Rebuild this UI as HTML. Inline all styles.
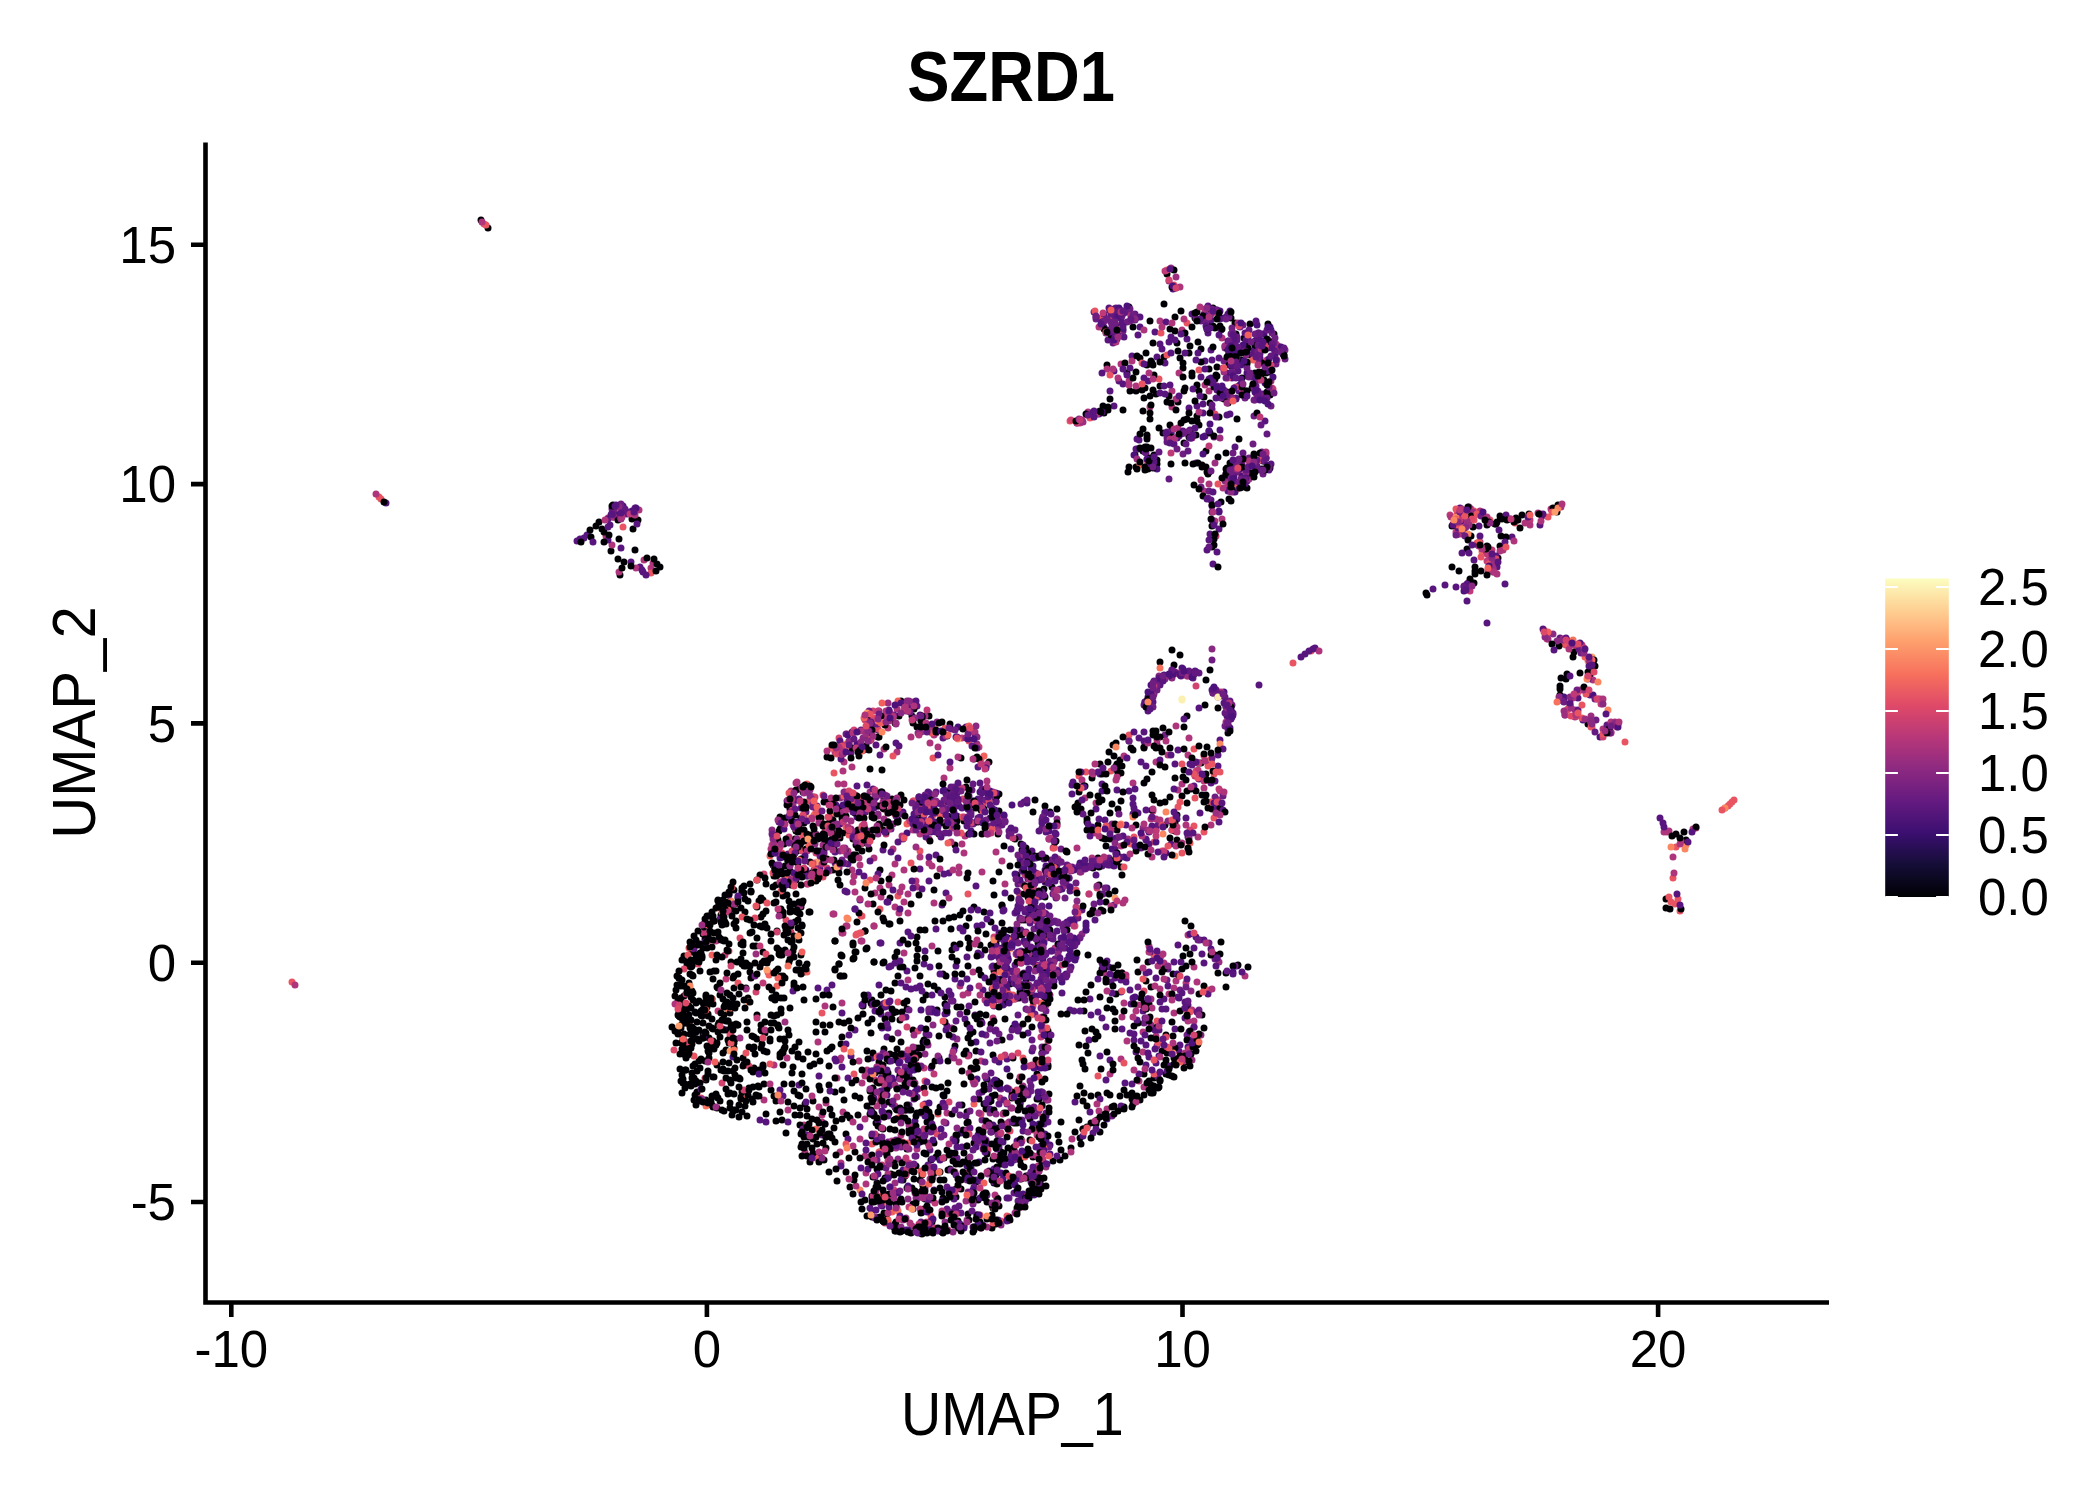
<!DOCTYPE html><html><head><meta charset="utf-8"><style>html,body{margin:0;padding:0;background:#fff;width:2100px;height:1500px;overflow:hidden}svg{display:block}text{font-family:"Liberation Sans",sans-serif}</style></head><body>
<svg width="2100" height="1500" viewBox="0 0 2100 1500">
<defs><linearGradient id="mg" x1="0" y1="1" x2="0" y2="0">
<stop offset="0.00" stop-color="#000004"/>
<stop offset="0.10" stop-color="#140E36"/>
<stop offset="0.20" stop-color="#3B0F70"/>
<stop offset="0.30" stop-color="#641A80"/>
<stop offset="0.40" stop-color="#8C2981"/>
<stop offset="0.50" stop-color="#B73779"/>
<stop offset="0.60" stop-color="#DE4968"/>
<stop offset="0.70" stop-color="#F7705C"/>
<stop offset="0.80" stop-color="#FE9F6D"/>
<stop offset="0.90" stop-color="#FECF92"/>
<stop offset="1.00" stop-color="#FCFDBF"/>
</linearGradient></defs>
<g fill="none" stroke-width="7" stroke-linecap="round"><path d="M1225 348h0M998 828h0M993 792h0M1242 389h0M1001 1089h0M957 1039h0M1020 1154h0M776 840h0M993 949h0M1046 987h0M968 1192h0M1212 649h0M879 711h0M930 828h0M1278 346h0M1087 868h0M933 1025h0M1039 1186h0M1565 715h0M817 876h0M1583 648h0M824 854h0M1011 830h0M1497 561h0M1151 1025h0M1031 1091h0M893 824h0M1172 678h0" stroke="#8A2981"/><path d="M1147 437h0M1561 507h0M912 1226h0M1187 676h0M897 709h0M1178 790h0M1046 812h0M1222 519h0M1038 1166h0M1036 921h0M1222 338h0M883 802h0M911 737h0M1096 803h0M1220 806h0M1057 825h0M1204 491h0M1164 963h0M1003 1125h0M938 747h0M874 926h0M1276 344h0M1667 832h0M1201 480h0M1245 976h0M960 986h0M838 784h0M1490 557h0M910 1223h0M1139 1081h0M1611 732h0M806 819h0M908 913h0M934 735h0M913 830h0M1107 1109h0M856 839h0M973 972h0M1104 973h0M931 1200h0M1233 492h0M1615 722h0M805 1152h0M764 1100h0M1144 1087h0M1122 973h0M982 872h0M902 836h0M1072 1139h0M1172 407h0M1055 948h0M1058 859h0M1603 729h0M970 812h0M1673 857h0M1575 717h0M804 1125h0M866 1173h0" stroke="#AE347B"/><path d="M1073 954h0M1487 549h0M1021 1195h0M773 834h0M698 964h0M898 1002h0M1045 1144h0M792 815h0M983 804h0M1196 771h0M1018 1053h0M1580 690h0M730 1035h0M823 795h0M1453 524h0M1033 1006h0" stroke="#DE4968"/><path d="M1221 330h0M1491 557h0M926 1110h0M1158 825h0M917 706h0M1044 880h0M1116 308h0M931 798h0M926 827h0M1015 830h0M1115 332h0M1038 1177h0M974 823h0M991 1084h0M917 821h0M952 819h0M1070 920h0M1086 930h0M896 1140h0M1070 887h0M1201 321h0M946 1123h0M1059 950h0M1020 859h0M1056 898h0M1039 893h0M957 1158h0M1034 937h0M983 1225h0M1156 953h0M1036 908h0M787 801h0M921 823h0M966 727h0M1027 942h0M994 1169h0M851 753h0M930 1150h0M1200 940h0M953 1037h0M1049 978h0M1082 910h0M803 790h0M954 803h0M1099 860h0M1230 701h0M1192 677h0M1076 957h0M1256 323h0M1021 930h0M1018 1201h0M1014 1193h0M1106 333h0M916 809h0M793 798h0M1029 897h0M1464 512h0M1044 1066h0M1247 376h0M1607 725h0" stroke="#63197F"/><path d="M847 918h0M1491 560h0M1166 812h0M1119 326h0M1686 845h0M1175 856h0M860 1190h0M846 744h0" stroke="#FB8761"/><path d="M1018 906h0M1600 737h0M980 792h0M1166 853h0M623 506h0M1003 1142h0M1235 482h0M1039 983h0M903 1170h0M1224 692h0M1044 968h0M1227 716h0M1114 309h0M1121 318h0M1262 397h0M1134 813h0M921 1192h0M1071 923h0M1228 356h0M899 1078h0M903 812h0M886 1152h0M959 806h0M1103 861h0M1261 396h0M1099 414h0M1228 489h0M934 810h0M1066 974h0M921 1010h0M1031 868h0M1022 1198h0M878 730h0M1117 311h0M1188 837h0M1046 1100h0M1237 966h0M1046 1116h0M881 1139h0M1146 840h0M928 1168h0M989 997h0M907 833h0M1041 930h0M956 737h0M1171 434h0M1181 434h0M1222 386h0M1083 1129h0M920 715h0M1044 976h0M796 861h0M1030 938h0M1220 311h0M884 1113h0M961 1133h0M1145 702h0M1008 1159h0M943 791h0M946 1030h0M1100 319h0M1023 1194h0M1045 870h0M1062 889h0M1045 882h0M733 1057h0M1228 488h0M977 1079h0M1149 832h0M1044 880h0M997 823h0M1275 352h0M818 837h0M1062 982h0M1229 704h0M820 869h0" stroke="#4C117A"/><path d="M943 1095h0M1020 1104h0M1117 764h0M726 924h0M904 1003h0M785 866h0M1187 791h0M1497 522h0M733 978h0M992 1228h0M741 1097h0M1138 449h0M1180 655h0M1059 1142h0M946 976h0M992 1215h0M977 757h0M919 1136h0M819 1155h0M1107 365h0M774 1023h0M907 1188h0M697 1071h0M1153 365h0M1173 974h0M807 1156h0M1153 390h0M966 926h0M1238 965h0M744 1064h0M850 1187h0M955 1046h0M792 956h0M795 815h0M861 831h0M1197 312h0M736 921h0M968 799h0M1183 368h0M1045 1079h0M1048 1031h0M948 1170h0M853 839h0M993 1159h0M703 1035h0M763 914h0M1247 488h0M719 1023h0M709 1102h0M875 1073h0M843 822h0M739 1078h0M735 1039h0M757 1015h0M776 1121h0M1066 869h0M1098 825h0M1087 1106h0M979 1099h0M871 1033h0M1666 899h0M1100 973h0M1213 308h0M836 828h0M1144 1003h0M810 1162h0M687 1009h0M972 730h0M699 1061h0M1097 1120h0M881 1167h0M1061 1122h0M1093 868h0M861 1202h0M1143 1005h0M774 1096h0M794 986h0M1045 998h0M800 848h0M886 823h0M709 1058h0M930 1123h0M1154 1078h0M961 1007h0M1684 832h0M997 1198h0M803 1059h0M1042 1053h0M833 1007h0M998 834h0M1020 1160h0M865 931h0M1026 981h0M677 985h0M764 1084h0M1022 850h0M801 818h0M1087 1127h0M824 802h0M929 1114h0M1146 353h0M925 1199h0M731 962h0M867 1106h0M726 1030h0M1240 390h0M746 963h0M811 835h0M687 963h0M872 1075h0M1092 828h0M1026 848h0M938 990h0M883 1146h0M1194 485h0M868 1023h0M1004 846h0M756 946h0M844 976h0M804 1000h0M1218 457h0M945 997h0M799 913h0M991 1024h0M853 959h0M745 912h0M1160 662h0M865 1200h0M840 838h0M907 1009h0M872 1000h0M858 830h0M1030 856h0M1026 1197h0M679 1016h0M730 995h0M692 991h0M915 1135h0M1243 361h0M1192 421h0M881 1218h0M690 1034h0M744 893h0M906 1174h0M900 1232h0M699 1030h0M1167 274h0M993 945h0M682 1049h0M735 1068h0M796 831h0M952 957h0M803 1147h0M1048 881h0M1116 766h0M1110 839h0M1046 1137h0M708 936h0M802 926h0M1030 1119h0M1228 403h0M941 823h0M679 1007h0M944 1096h0M981 1021h0M1560 689h0M898 976h0M1136 467h0M1091 985h0M769 987h0M699 1001h0M1590 675h0M1236 334h0M1570 705h0M889 924h0M797 851h0M873 904h0M922 1234h0M1017 1208h0M1247 364h0M917 961h0M1096 1124h0M1042 1163h0M883 830h0M818 839h0M706 941h0M1199 994h0M1186 948h0M913 1030h0M1156 394h0M708 1014h0M803 792h0M1038 943h0M832 1047h0M876 1123h0M1151 1093h0M1046 881h0M917 937h0M813 797h0M842 1090h0M1197 1045h0M756 1095h0M1065 1156h0M783 1053h0M770 1039h0M772 998h0M1190 437h0M1177 840h0M773 865h0M827 845h0M1145 470h0M933 1233h0M914 709h0M743 1058h0M958 1221h0M828 802h0M829 1066h0M880 870h0M780 1054h0M841 1044h0M999 1206h0M1150 1017h0M1000 819h0M1124 1107h0M948 1061h0M839 808h0M770 1041h0M689 983h0M935 1061h0M883 1221h0M801 955h0M943 1198h0M834 1128h0M857 922h0M1052 887h0M942 1229h0M750 972h0M734 890h0M1116 743h0M1427 595h0M778 840h0M984 1104h0M932 1222h0M942 1232h0M1263 461h0M624 562h0M1083 1101h0M749 1047h0M890 802h0M795 847h0M1241 484h0M1098 1095h0M777 838h0M1146 981h0M1206 451h0M789 962h0M865 812h0M804 830h0M788 861h0M1471 536h0M1002 906h0M906 1144h0M950 1169h0M870 1157h0M937 1010h0M1187 716h0M964 1153h0M934 1143h0M707 934h0M1607 732h0M721 901h0M1173 1036h0M1274 334h0M1522 515h0M1206 795h0M1252 474h0M783 857h0M725 1005h0M1254 454h0M996 801h0M712 1105h0M733 1111h0M1189 353h0M724 921h0M753 946h0M777 931h0M801 871h0M1165 802h0M1185 388h0M802 787h0M803 901h0M879 824h0M968 821h0M1151 361h0M994 971h0M1064 874h0M839 1022h0M970 1034h0M841 976h0M1032 1190h0M1141 998h0M1036 1181h0M731 1083h0M996 1224h0M1110 1000h0M1500 516h0M1132 1099h0M856 855h0M987 1079h0M1018 1110h0M743 945h0M737 1004h0M701 953h0M753 1072h0M757 880h0M780 1039h0M916 1229h0M1202 795h0M900 967h0M856 837h0M984 912h0M1206 774h0M890 1161h0M955 845h0M706 1080h0M816 839h0M993 1208h0M1204 986h0M1061 1150h0M1136 391h0M1166 1074h0M1078 1000h0M1021 1179h0M613 505h0M884 1213h0M789 862h0M1026 1176h0M806 1128h0M1114 1106h0M974 1230h0M1013 1028h0M1250 324h0M1029 913h0M980 945h0M1088 1053h0M1211 761h0M781 1013h0M1204 802h0M945 1004h0M889 1113h0M729 1043h0M1197 416h0M703 934h0M702 958h0M1212 809h0M1075 807h0M1137 960h0M731 907h0M880 1152h0M688 1049h0M897 809h0M1033 1157h0M633 529h0M916 1139h0M968 1214h0M1080 1138h0" stroke="#000004"/><path d="M977 926h0M868 996h0M1134 1040h0M1104 327h0M1188 1047h0M937 1013h0M978 799h0M889 710h0M1114 866h0M861 730h0M978 953h0M1032 851h0M1236 398h0M946 893h0M923 808h0M1019 906h0M1036 873h0M779 822h0M1506 515h0M1020 954h0M879 1154h0M1119 381h0M1133 798h0M1025 984h0M1034 955h0M1039 831h0M967 957h0M1232 378h0M1151 702h0M1168 986h0M880 755h0M1115 978h0M1231 480h0M1117 339h0M1263 334h0M780 1090h0M992 981h0M1189 408h0M1074 1011h0M799 1085h0M878 874h0M1465 521h0M1114 406h0M1102 866h0M1096 809h0M1238 371h0M921 802h0M1188 1005h0M1178 750h0M848 1078h0M916 1156h0M931 1227h0M920 869h0M1149 1057h0M1219 511h0M1108 340h0M1012 971h0M1121 992h0M1141 848h0M1218 755h0M1039 925h0M1209 431h0M1024 802h0M980 783h0M1467 601h0M1185 353h0M872 1198h0M1093 1133h0M1271 464h0M1055 833h0M1211 500h0M1109 967h0M1245 484h0M870 1208h0M977 821h0M1497 567h0M990 818h0M976 886h0M1043 962h0M887 1037h0M1512 537h0M910 1056h0M1233 713h0M1174 826h0M1017 1141h0M1098 979h0M860 900h0M1089 1040h0M1033 1167h0M983 990h0M1072 870h0M881 1014h0M878 1121h0M932 1009h0M1045 820h0M1479 526h0M1067 922h0M1211 783h0M1185 1018h0M1124 337h0M900 943h0M1050 826h0M1025 912h0M1062 993h0M846 1044h0" stroke="#58157E"/><path d="M1478 544h0M1254 470h0M1174 285h0M921 1171h0M1041 1151h0M872 1144h0M1162 851h0M837 828h0M484 224h0M1154 842h0M1154 955h0M379 497h0M1079 776h0M1209 990h0M898 896h0M938 1114h0M1041 952h0M860 933h0M943 804h0M814 827h0M1001 1221h0M694 1056h0M1182 853h0M803 836h0M920 851h0M1214 774h0M1053 848h0M701 1098h0M1477 543h0" stroke="#E95462"/><path d="M947 1214h0M888 1197h0M1153 811h0M888 728h0M1025 875h0M994 1208h0M1032 996h0M935 1228h0M757 1018h0M812 819h0M962 738h0M1048 1041h0M1582 645h0M1227 704h0M1267 360h0M1195 776h0M890 713h0M947 791h0M613 517h0M1080 423h0M1220 791h0M1450 515h0M1048 931h0M969 732h0M880 1101h0" stroke="#BF3A77"/><path d="M971 812h0M870 1076h0M1055 921h0M1041 937h0M973 1204h0M885 1152h0M1014 1160h0M1044 1035h0M823 852h0M1204 314h0M1246 391h0M903 839h0M1262 452h0M954 1155h0M1487 522h0M1210 325h0M1007 1221h0M1183 454h0M951 1170h0M915 1055h0M1035 1014h0M1209 491h0M995 952h0M970 1165h0M842 814h0M1066 964h0M1246 459h0M1061 862h0M1042 989h0M1243 325h0M632 515h0M1083 786h0M1158 1077h0M1020 998h0M1043 948h0M1042 1054h0M982 1120h0M1122 316h0M620 512h0M1061 849h0M1040 922h0M979 1093h0M1165 735h0M926 830h0M1249 458h0M990 826h0M1009 1198h0M1057 865h0M1019 837h0M1036 939h0M869 716h0" stroke="#6E1D81"/><path d="M1482 552h0M831 815h0M697 1093h0M857 807h0" stroke="#F7725C"/><path d="M1106 828h0M1592 657h0M1010 949h0M882 723h0" stroke="#FD9D6B"/><path d="M1131 844h0M1260 460h0M1025 1157h0M881 1196h0M1460 516h0M1167 270h0M895 814h0M870 732h0" stroke="#F1605D"/><path d="M1057 897h0M1529 519h0M825 845h0M966 1201h0M884 819h0M914 1056h0M1042 1017h0M872 1005h0M1280 351h0M1050 995h0M1064 886h0M1032 955h0M1009 1130h0M876 1217h0M1468 583h0M967 1220h0M1128 839h0M1008 941h0M1188 676h0M1023 1086h0M838 830h0M1046 929h0M899 1056h0M1232 716h0" stroke="#9C2E7F"/><path d="M896 803h0M885 1223h0M952 828h0M926 821h0M1228 378h0M1273 389h0M845 792h0M836 753h0M764 874h0M768 972h0" stroke="#D2436F"/><path d="M825 831h0M835 747h0M1567 640h0M1113 331h0M890 1187h0M993 1018h0M909 822h0M704 933h0M1198 770h0M1161 956h0M608 518h0M725 955h0M994 1001h0M955 1172h0M924 1068h0M1189 1049h0M909 1163h0M1049 973h0M869 740h0M835 752h0M1117 857h0M998 995h0M891 808h0M917 1142h0M1272 388h0M935 1203h0M905 1057h0M1216 536h0" stroke="#BF3A77"/><path d="M1190 843h0M744 1099h0M849 742h0M1237 489h0M807 784h0M917 825h0M847 734h0M940 816h0M777 986h0M1043 879h0M1031 1015h0" stroke="#F1605D"/><path d="M1153 731h0M719 1023h0M1162 1051h0M867 717h0M805 812h0M819 1155h0M1184 727h0M1176 1062h0M816 851h0M1247 350h0M763 952h0M709 1026h0M989 762h0M705 919h0M688 1055h0M900 1144h0M912 1188h0M815 864h0M1008 960h0M843 833h0M899 716h0M718 1025h0M1213 311h0M1100 764h0M1170 329h0M994 1084h0M903 940h0M976 1182h0M820 1061h0M734 1048h0M863 843h0M1255 373h0M735 1075h0M844 863h0M716 908h0M1257 342h0M877 806h0M703 1038h0M1250 355h0M804 972h0M679 1012h0M882 770h0M742 892h0M1010 984h0M717 987h0M946 1230h0M1153 1093h0M1109 863h0M887 1156h0M1202 465h0M1078 803h0M1269 346h0M1013 1058h0M1588 724h0M1187 803h0M881 1128h0M938 1228h0M855 1152h0M1189 1010h0M912 716h0M738 898h0M1020 1094h0M994 895h0M783 1065h0M885 725h0M1121 773h0M879 794h0M790 959h0M1201 763h0M999 811h0M1676 834h0M881 881h0M1244 338h0M971 1068h0M1191 926h0M790 856h0M1131 748h0M902 1012h0M856 845h0M751 978h0M883 918h0M901 701h0M809 912h0M692 1044h0M1109 752h0M1105 839h0M956 1189h0M1186 966h0M784 1084h0M1215 955h0M1498 558h0M947 1091h0M1004 950h0M913 1204h0M1185 1062h0M1037 878h0M750 933h0M1160 1080h0M938 1112h0M947 1150h0M996 1175h0M1040 932h0M1010 866h0M821 818h0M802 1074h0M1079 867h0M837 831h0M688 1044h0M1114 756h0M1018 1206h0M984 1193h0M721 1070h0M1018 998h0M1228 733h0M835 969h0M801 1134h0M1501 536h0M1144 783h0M1136 851h0M908 944h0M681 986h0M883 1220h0M1024 1167h0M1246 341h0M801 907h0M788 1102h0M782 955h0M1140 1100h0M999 1223h0M895 1107h0M968 966h0M829 1085h0M792 1051h0M1108 762h0M707 999h0M893 800h0M974 759h0M877 1183h0M967 1012h0M1248 967h0M693 1066h0M907 1149h0M1133 1104h0M1061 1014h0M768 960h0M1044 933h0M776 885h0M760 875h0M1190 346h0M994 1021h0M1166 1035h0M974 907h0M1183 363h0M706 995h0M679 1004h0M1177 815h0M969 948h0M1100 894h0M973 1197h0M728 1094h0M1182 969h0M967 1112h0M694 1078h0M1144 1074h0M1000 957h0M1149 1004h0M774 876h0M687 966h0M838 880h0M696 961h0M1152 810h0M1134 1026h0M776 1101h0M714 921h0M1157 1027h0M916 1166h0M1204 397h0M1474 516h0M734 976h0M1084 1011h0M963 1130h0M1202 467h0M1257 394h0M713 1004h0M718 1032h0M1208 326h0M696 1003h0M978 1218h0M792 1073h0M1099 802h0M1273 342h0M697 1039h0M816 881h0M999 794h0M833 870h0M927 1233h0M898 820h0M1050 812h0M929 1112h0M865 931h0M895 1225h0M856 835h0M986 1015h0M1158 1088h0M1147 365h0M869 849h0M1209 382h0M1184 1068h0M1049 1040h0M827 844h0M744 886h0M1195 318h0M754 1037h0M967 1123h0M1500 546h0M704 927h0M880 1217h0M732 1115h0M694 936h0M1205 705h0M896 1222h0M985 950h0M1143 411h0M901 1199h0M739 994h0M1227 392h0M1116 313h0M1184 420h0M1017 875h0M986 1109h0M854 958h0M1002 905h0M743 953h0M1037 1099h0M681 1028h0M1215 379h0M936 1157h0M728 1040h0M840 885h0M1021 1165h0M1086 1046h0M889 1194h0M734 988h0M1006 954h0M730 910h0M748 998h0M1164 357h0M916 1058h0M1103 406h0M950 792h0M706 1100h0M832 1138h0M917 1113h0M997 979h0M918 949h0M1127 373h0M1270 372h0M682 1018h0M804 823h0M1143 429h0M1231 318h0M801 1147h0M685 1088h0M1203 496h0M858 1115h0M1104 969h0M1038 1064h0M780 1057h0M679 1006h0M703 1003h0M689 1022h0M901 1042h0M1199 425h0M707 916h0M1008 938h0M890 898h0M896 1222h0M765 1022h0M1241 360h0M887 1219h0M919 810h0M686 1048h0M930 1210h0M732 1025h0M1115 1021h0M966 1051h0M1194 674h0M872 1112h0M1001 818h0M856 1080h0M954 917h0M705 943h0M1270 468h0M746 988h0M772 990h0M943 921h0M996 814h0M734 1043h0M757 1096h0M709 1038h0M1220 954h0M1107 1008h0M778 1026h0M921 730h0M880 826h0M1075 1132h0M712 999h0M1266 373h0M1616 724h0M1172 855h0M895 1166h0M1147 1083h0M713 1046h0M1150 419h0M1213 326h0M682 1024h0M871 1003h0M795 839h0M821 1133h0M792 941h0M1567 674h0M638 520h0M974 1143h0M796 894h0M1037 1074h0M900 805h0M849 1021h0M737 1025h0M690 974h0M979 970h0M730 901h0M765 1033h0M1266 458h0M934 986h0M1087 819h0" stroke="#000004"/><path d="M982 1142h0M1071 871h0M843 812h0M756 954h0M863 826h0M930 1179h0M851 829h0M1575 710h0M1016 939h0M870 831h0M1043 975h0M987 1152h0M874 1160h0M919 718h0M977 744h0M1032 1155h0M885 1088h0M1565 715h0M944 1122h0M1176 277h0M793 843h0M933 1177h0M800 906h0M952 1028h0M906 1218h0M994 954h0M871 1156h0M790 810h0M967 1146h0M1255 400h0M1046 1005h0M1020 1179h0M1219 962h0" stroke="#9C2E7F"/><path d="M1147 701h0M1237 358h0M608 519h0M1230 716h0M975 735h0M1259 396h0M1249 330h0M1031 1172h0M1106 320h0M1026 932h0M914 1099h0M907 1054h0M915 818h0M916 808h0M952 1056h0M1046 1113h0M981 799h0M1042 828h0M1111 982h0M1018 884h0M1036 986h0M799 789h0M1066 977h0M1002 825h0M956 1021h0M1228 729h0M1036 858h0M932 1012h0M1039 857h0M989 1144h0M1590 695h0M1114 905h0M929 1035h0M1578 710h0M994 795h0M974 1187h0M947 1209h0M1021 984h0M989 1089h0M1066 870h0M1229 398h0M894 715h0M1055 959h0M1257 460h0M1196 463h0M1136 318h0M1161 678h0M1015 965h0M999 1147h0M1075 956h0M870 801h0M1043 821h0M1018 1031h0M1113 343h0M1103 894h0M1015 913h0M949 833h0M889 1086h0M632 511h0M864 750h0M956 1211h0" stroke="#63197F"/><path d="M1209 484h0M1493 569h0M1471 509h0M843 1112h0M951 842h0M856 1186h0M975 732h0M1205 309h0M1160 820h0M1133 783h0M1480 511h0M787 1058h0M1121 364h0M1007 954h0M1149 946h0M899 913h0M1563 698h0M948 1230h0M1110 1074h0M929 863h0M1588 676h0M1095 764h0M1136 812h0M1027 1196h0M1136 1102h0M844 762h0M865 1119h0M1194 967h0M1121 1059h0M865 1156h0M841 1163h0M829 805h0M1000 1098h0M1156 819h0M969 1073h0M1693 829h0M917 1197h0M1047 938h0M1042 1024h0M968 727h0M848 851h0M895 1106h0M1124 1003h0M1230 396h0M854 876h0M925 1195h0M606 536h0M1022 884h0M965 836h0M1218 800h0M1209 391h0M1042 975h0M1458 534h0M893 716h0M889 885h0M1122 1017h0M900 892h0M893 804h0M1082 780h0M1035 997h0M1085 798h0M1188 849h0M985 1127h0M1256 393h0M1497 574h0M936 733h0M867 1070h0M807 884h0M1037 1135h0M1611 722h0M833 914h0M874 926h0M1184 1061h0M978 1143h0" stroke="#AE347B"/><path d="M958 739h0" stroke="#FD9D6B"/><path d="M1013 995h0M1625 742h0M1089 894h0M849 835h0M834 801h0M1492 568h0M1194 826h0M1119 837h0M1101 318h0M782 853h0M969 741h0M1214 818h0M992 829h0M1157 1021h0M732 887h0M933 758h0M1184 1009h0M1086 772h0M956 789h0M1032 1112h0M1728 806h0M746 1053h0M1582 705h0M773 873h0M620 505h0M1047 1028h0M981 759h0M757 880h0M729 951h0M1033 1108h0M1194 749h0M903 1142h0M908 1143h0M1725 808h0M1515 523h0M1046 1062h0M1134 837h0M933 815h0M1070 421h0" stroke="#E95462"/><path d="M895 811h0M814 815h0M1160 668h0M932 731h0M788 966h0" stroke="#F7725C"/><path d="M1022 884h0M1001 1225h0M785 882h0M1493 572h0M1159 676h0M1058 954h0M1016 1121h0M983 1149h0M869 722h0M901 1227h0M1466 517h0M818 875h0M1459 534h0M774 853h0M906 711h0M852 831h0M814 870h0M840 798h0M971 824h0M992 967h0M1048 987h0M707 925h0M920 1133h0M1057 819h0M1189 838h0M923 1212h0M1046 1099h0M1037 874h0M1029 985h0M1486 551h0" stroke="#8A2981"/><path d="M1245 333h0M914 814h0M1027 945h0M981 955h0M1236 472h0M986 1078h0M986 1145h0M1107 319h0M922 818h0M1217 552h0M1061 938h0M1211 350h0M793 991h0M994 985h0M872 1211h0M1235 447h0M883 850h0M1215 781h0M842 1013h0M874 1098h0M1192 314h0M1078 918h0M1183 669h0M860 1127h0M962 808h0M1098 412h0M993 966h0M1149 844h0M1219 358h0M1208 994h0M1232 717h0M1100 1099h0M766 1122h0M1115 849h0M1213 564h0M1219 335h0M1129 791h0M845 794h0M587 535h0M1102 963h0M1265 421h0M760 1120h0M1229 477h0M880 943h0M1172 830h0M1510 519h0M1229 478h0M1564 698h0M1102 784h0M929 881h0M883 1004h0M1018 952h0M875 1011h0M801 808h0M1148 381h0M863 1004h0M619 513h0M774 866h0M1259 685h0M1065 948h0M925 951h0M1217 809h0M990 913h0M906 1230h0M1663 823h0M1074 945h0M1194 786h0M908 932h0M942 1201h0M957 793h0M1457 516h0M1469 585h0M1174 789h0M1132 1084h0M1228 491h0M1095 920h0M1199 779h0M960 928h0M975 1015h0M916 988h0M872 1058h0M738 896h0M1184 719h0M896 743h0M1220 740h0M1209 379h0M1058 923h0M1139 1074h0M1041 991h0M978 910h0M1263 394h0M1455 521h0M1143 1011h0M1046 832h0M1081 772h0M909 705h0M1138 813h0M1050 1154h0M852 732h0M951 995h0M936 855h0M949 873h0M1042 907h0M386 503h0M1178 945h0M788 854h0M1123 384h0M1121 1106h0M1203 413h0" stroke="#58157E"/><path d="M1150 952h0M1107 330h0M1110 310h0M1227 473h0M611 515h0M940 1160h0M949 798h0M1016 1179h0M1075 960h0M1177 974h0M1034 916h0M1265 348h0M1029 916h0M1148 697h0M1043 912h0M1019 953h0M1256 379h0M882 806h0M1045 930h0M871 734h0M1033 870h0M784 873h0M1217 310h0M1075 956h0M1060 889h0M892 1104h0M889 1176h0M882 1206h0M1041 948h0M1112 849h0M1269 359h0M1020 1103h0M1583 720h0M857 744h0M857 817h0M1593 695h0M1045 1134h0M976 1042h0M1036 910h0M1464 591h0M1265 383h0M1043 820h0M1057 877h0M957 816h0M1232 367h0M1012 805h0M1281 347h0M1264 334h0M1027 803h0M1227 373h0M1247 373h0M1104 314h0M998 1220h0M1260 358h0M1046 1141h0M998 939h0M1228 314h0M1235 492h0M1177 819h0" stroke="#4C117A"/><path d="M1224 361h0M1014 983h0M822 1135h0M1272 333h0M1242 464h0M986 820h0M1063 948h0M972 801h0M1225 346h0M1196 672h0M1269 467h0M1204 318h0M1229 393h0M1232 372h0M1123 331h0M999 1034h0M1223 796h0M896 816h0M1268 340h0M1002 948h0M1199 1010h0M977 1215h0M1254 416h0M935 813h0M1229 317h0M1235 966h0M883 1114h0M1048 965h0M1128 311h0M1082 869h0M995 1131h0M1040 909h0M613 517h0M1187 1035h0M1003 969h0M1110 826h0M986 1140h0M1019 933h0M875 1177h0M1173 674h0M1596 720h0M1018 855h0M1022 871h0M954 787h0M986 800h0M806 812h0M1035 957h0M1248 479h0M1059 890h0M1015 999h0M970 802h0M987 1195h0M1254 350h0M1004 970h0M925 1188h0M960 1014h0M950 822h0M1049 839h0M1276 364h0M1065 941h0" stroke="#6E1D81"/><path d="M1232 360h0M1567 710h0M937 1134h0M1144 991h0M802 851h0M731 1034h0M878 729h0M684 969h0" stroke="#DE4968"/><path d="M756 992h0M1566 645h0M914 801h0M988 1150h0M791 932h0M1071 420h0M708 941h0M1097 888h0M873 711h0M819 821h0M963 799h0M815 797h0M1577 648h0M1075 868h0M1591 723h0" stroke="#D2436F"/><path d="M935 725h0M690 986h0M1588 661h0M1163 834h0" stroke="#FB8761"/><path d="M838 750h0M1196 686h0M1568 709h0M918 1031h0M994 937h0M878 830h0M705 1078h0M833 834h0M1603 737h0M894 1190h0M874 803h0M934 826h0M860 798h0M897 1208h0M839 738h0M932 823h0M1190 830h0M891 719h0" stroke="#D2436F"/><path d="M749 1002h0M1685 849h0M728 1010h0" stroke="#FB8761"/><path d="M896 809h0M1589 660h0M1038 1067h0M1591 671h0M928 1045h0M988 1174h0M1046 996h0M1473 515h0M995 954h0M915 1193h0M878 834h0M1112 824h0M797 839h0M1082 934h0M957 1223h0M1157 1046h0M1194 1027h0M702 1099h0M863 738h0M928 1143h0M1143 828h0M1217 958h0M937 722h0M840 851h0M1246 355h0M1201 1035h0M817 866h0M898 1159h0M1080 937h0" stroke="#8A2981"/><path d="M778 1025h0M1077 806h0M830 1134h0M978 1200h0M751 892h0M798 847h0M866 949h0M989 1102h0M870 1114h0M897 822h0M773 835h0M734 1110h0M749 1088h0M1257 413h0M948 816h0M767 928h0M832 820h0M822 836h0M790 808h0M808 876h0M1181 311h0M1057 862h0M922 1048h0M683 1083h0M1152 772h0M1184 443h0M1594 660h0M924 1137h0M1160 737h0M823 1025h0M947 736h0M1116 994h0M1574 652h0M685 1019h0M961 1189h0M931 1160h0M996 944h0M973 805h0M681 1043h0M804 1148h0M1002 1040h0M924 1141h0M1118 310h0M790 800h0M872 1196h0M1012 1153h0M1470 579h0M755 963h0M968 795h0M987 1202h0M911 1233h0M827 757h0M867 734h0M685 1084h0M773 836h0M721 915h0M911 904h0M1198 763h0M829 823h0M981 810h0M895 1224h0M1035 899h0M929 716h0M993 818h0M1028 950h0M1128 472h0M725 940h0M1057 809h0M739 1105h0M1053 1161h0M1021 1139h0M959 1226h0M895 983h0M1557 512h0M672 1027h0M1091 813h0M905 1083h0M1123 410h0M939 1036h0M1178 1062h0M1160 386h0M1091 1123h0M1044 1178h0M1106 409h0M795 1047h0M735 904h0M955 1153h0M1474 583h0M700 953h0M759 1070h0M1001 995h0M619 539h0M1135 455h0M798 1054h0M1111 335h0M684 996h0M1426 593h0M791 885h0M1008 1148h0M1017 1191h0M1060 1160h0M1152 363h0M1496 524h0M796 830h0M810 786h0M1037 1066h0M962 1105h0M1227 348h0M800 1115h0M793 1067h0M762 1031h0M1117 830h0M1230 479h0M1270 395h0M729 944h0M1558 505h0M1166 1064h0M862 851h0M1003 948h0M1132 1093h0M713 1047h0M820 851h0M1506 537h0M707 948h0M1043 857h0M850 1118h0M883 1080h0M900 1088h0M884 1049h0M1057 809h0M1235 323h0M794 947h0M958 1228h0M874 1092h0M794 854h0M736 1078h0M771 1090h0M890 1054h0M905 703h0M923 1186h0M1026 1155h0M984 809h0M1009 1217h0M806 849h0M928 802h0M1098 858h0M779 831h0M1058 1135h0M883 1221h0M861 810h0M969 1220h0M716 971h0M968 1123h0M1242 378h0M897 805h0M877 1169h0M1122 973h0M790 907h0M1214 545h0M940 1107h0M1071 1148h0M1017 1123h0M716 960h0M771 1015h0M1163 433h0M739 1117h0M1507 520h0M1239 386h0M1133 750h0M1104 329h0M1165 825h0M1001 1152h0M1218 708h0M900 1075h0M995 1172h0M997 1128h0M975 1016h0M733 882h0M791 926h0M785 1047h0M1219 417h0M876 1142h0M913 723h0M802 925h0M714 971h0M1481 571h0M924 1209h0M740 1079h0M977 1068h0M1174 1077h0M902 1202h0M1120 1096h0M877 1003h0M730 1080h0M873 1071h0M763 900h0M855 813h0M996 1220h0M784 844h0M928 984h0M700 1068h0M1150 396h0M931 807h0M779 1028h0M1104 413h0M1014 1123h0M692 952h0M845 850h0M733 1030h0M795 1115h0M1015 839h0M1017 1211h0M682 980h0M1025 886h0M686 1070h0M785 950h0M1035 856h0M801 843h0M892 1148h0M1207 472h0M1007 1137h0M1220 808h0M833 820h0M689 1015h0M792 942h0M780 829h0M891 1174h0M725 902h0M708 1074h0M1233 966h0M1248 348h0M1133 327h0M1261 377h0M800 1125h0M1226 973h0M1232 333h0M1120 760h0M1214 387h0M1231 356h0M754 1047h0M1102 969h0M993 1176h0M1032 998h0M914 1172h0M863 1006h0M1618 724h0M900 1020h0M997 796h0M846 1134h0M1024 1096h0M888 822h0M884 809h0M1157 464h0M1267 392h0M849 1158h0M1473 527h0M1197 385h0M1202 1015h0M920 1142h0M1590 666h0M1182 1055h0M1033 882h0M1107 1052h0M741 959h0M747 1022h0M1099 867h0M826 1137h0M1042 1008h0M696 1081h0M700 971h0M781 1009h0M750 966h0M798 863h0M794 904h0M999 984h0M1156 731h0M1211 312h0M1224 399h0M789 1035h0M798 1057h0M893 1013h0M783 896h0M993 1180h0M692 975h0M807 964h0M691 1028h0M1117 335h0M795 922h0M946 792h0M1236 487h0M956 1197h0M879 737h0M714 933h0M864 804h0M1130 391h0M1047 1036h0M872 1217h0M952 950h0M759 1087h0M1264 380h0M679 985h0M819 1086h0M1009 1186h0M1175 831h0M713 1029h0M816 999h0M848 830h0M1012 1098h0M1044 889h0M883 963h0M953 1161h0M1229 354h0M1159 1087h0M709 1053h0M1217 367h0M1000 964h0M1236 358h0M994 1183h0M835 1092h0M1106 902h0M1163 728h0M730 1013h0M679 971h0M1101 910h0M981 975h0M1008 1128h0M1045 897h0M805 967h0M924 826h0M807 834h0M865 888h0M1210 403h0M872 805h0M1140 358h0M819 817h0M939 834h0" stroke="#000004"/><path d="M712 955h0M892 1212h0M1592 660h0M933 801h0M1011 940h0M816 1129h0M1252 470h0" stroke="#F1605D"/><path d="M1068 866h0M792 809h0M1024 973h0M1116 853h0M1004 937h0M1238 472h0M1264 461h0M1061 862h0M1014 1184h0M1029 1175h0M996 818h0M1154 694h0M1033 896h0M883 1053h0M1067 960h0M1221 398h0M1046 1066h0M1201 487h0M1030 1081h0M1227 722h0M1050 961h0M877 724h0M888 1142h0M1019 1027h0M1112 1116h0M996 1086h0M921 732h0M1208 498h0M1209 943h0M954 808h0M1214 437h0M973 824h0M1063 927h0M1042 1047h0M1172 670h0M1112 316h0M990 1029h0M1144 1023h0M635 510h0M1146 453h0M846 734h0M1080 938h0M1114 311h0M1066 883h0M1263 474h0M1076 918h0M1096 319h0M997 1041h0M1025 1000h0M1051 860h0M1157 690h0M869 711h0M972 790h0M924 1136h0M1245 398h0M1241 482h0M791 820h0M1196 319h0M1212 309h0M905 1067h0M931 1068h0M1226 474h0M1122 311h0M1232 705h0M834 846h0M995 952h0M1002 958h0M1098 861h0M1046 874h0M1000 934h0M996 1030h0M803 1129h0M928 799h0M1064 924h0M1247 368h0M1233 333h0M1225 726h0" stroke="#6E1D81"/><path d="M1182 700h0" stroke="#FCF0B0"/><path d="M1009 1122h0M1153 695h0M999 832h0M886 1055h0M1589 660h0M1224 372h0M903 1220h0M819 823h0M1192 1060h0M1171 268h0M925 716h0M1007 974h0M1225 346h0M1042 1093h0M1157 744h0M790 865h0M746 989h0M812 799h0M875 721h0M1011 1108h0M911 702h0M872 808h0M872 1099h0M851 821h0M1004 1004h0M877 826h0M1032 858h0M849 743h0" stroke="#9C2E7F"/><path d="M867 713h0M817 862h0M810 818h0M1457 528h0" stroke="#FD9D6B"/><path d="M1000 972h0M878 721h0" stroke="#F7725C"/><path d="M1238 487h0M1075 941h0M1013 972h0M1094 312h0M1224 390h0M1267 434h0M794 875h0M1018 1027h0M1135 314h0M1227 971h0M947 1026h0M1012 1122h0M863 828h0M1028 876h0M1144 705h0M1131 315h0M1009 836h0M1148 999h0M921 1222h0M1263 454h0M1014 942h0M896 1145h0M951 729h0M1043 942h0M969 1006h0M982 789h0M1048 1122h0M1068 924h0M1053 935h0M877 1067h0M1237 337h0M1232 466h0M990 798h0M1007 1104h0M996 1202h0M994 977h0M694 949h0M1039 897h0M998 948h0M959 1105h0M955 1208h0M1225 479h0M1261 425h0M1263 341h0M1004 1100h0M946 794h0M1233 715h0M1021 1202h0M1243 453h0M807 1135h0M947 1187h0M1560 638h0" stroke="#63197F"/><path d="M1162 825h0M905 706h0M766 954h0M1014 999h0M1172 830h0M874 718h0M922 808h0M931 1216h0M989 801h0" stroke="#DE4968"/><path d="M921 811h0M1036 878h0M1148 692h0M1240 350h0M836 805h0M1542 516h0M970 821h0M1053 894h0M634 515h0M1072 920h0M954 815h0M1028 919h0M1233 972h0M999 1062h0M1121 326h0M1116 335h0M1008 948h0M1043 969h0M1240 385h0M1221 318h0M1007 990h0M1211 378h0M986 766h0M993 1125h0M1210 424h0M1092 827h0M993 944h0M1049 831h0M1017 912h0M1048 976h0M1151 693h0M618 515h0M1039 1124h0M919 801h0M990 791h0M1164 675h0M1006 937h0M1032 1009h0M1173 289h0M969 1193h0M1036 996h0M902 1177h0M1234 351h0M1255 341h0M1018 1194h0M967 806h0M1049 906h0M992 956h0M1045 922h0M999 821h0M1028 973h0M1034 910h0M980 805h0M1042 923h0M1015 874h0M1150 708h0M1150 705h0M1134 455h0M1182 668h0M1033 1124h0M1102 322h0" stroke="#4C117A"/><path d="M1052 877h0M1269 470h0M943 738h0M848 1139h0M1141 1041h0M1090 999h0M1070 891h0M881 1078h0M1109 308h0M1123 836h0M835 852h0M887 902h0M1160 344h0M1126 825h0M1007 1059h0M1069 878h0M1489 554h0M853 837h0M1100 774h0M1024 1089h0M1146 839h0M1155 332h0M907 971h0M1204 940h0M1149 972h0M1007 1198h0M954 1199h0M941 993h0M1133 814h0M868 995h0M1218 766h0M1170 1066h0M980 1181h0M1054 847h0M1238 485h0M1122 323h0M1100 1056h0M1240 469h0M1069 959h0M1011 849h0M1125 1083h0M1146 973h0M1133 804h0M1219 822h0M1205 436h0M640 567h0M1115 337h0M982 925h0M1456 587h0M985 978h0M929 1010h0M1247 474h0M1092 865h0M1129 741h0M949 991h0M1236 399h0M908 1076h0M944 811h0M929 793h0M1019 901h0M1315 648h0M1185 1002h0M1165 363h0M1132 356h0M1186 818h0M994 821h0M1268 348h0M1239 391h0M1187 339h0M861 1168h0M1474 516h0M965 1019h0M612 513h0M1180 1045h0M990 1000h0M1102 1018h0M1061 978h0M1179 1051h0M1540 525h0M827 990h0M1205 361h0M1131 1004h0M1226 317h0M1213 492h0M1171 337h0M1148 999h0M928 1165h0M903 1054h0M1505 542h0M995 945h0M1077 942h0M1190 430h0M1588 693h0M929 730h0M1144 378h0M962 1147h0M1194 435h0M842 1067h0M1164 999h0M1212 690h0M1203 778h0M1175 1029h0M1070 943h0M857 843h0M956 966h0M1056 974h0M1114 371h0M1305 654h0M1255 346h0M1271 330h0M788 856h0M967 979h0M643 572h0" stroke="#58157E"/><path d="M801 802h0M1678 899h0M929 806h0M1203 992h0M1154 1074h0M932 733h0M1582 718h0M1129 735h0M1198 778h0M1187 323h0M1110 375h0M1547 634h0M870 880h0M1229 713h0M862 916h0M1004 964h0M1204 832h0M1023 1058h0M857 934h0M870 714h0M1124 1063h0M618 508h0M731 1043h0M1038 896h0M1095 311h0M1457 514h0M837 754h0M1178 807h0M1090 418h0M791 805h0M738 983h0" stroke="#E95462"/><path d="M927 710h0M789 837h0M863 830h0M981 1061h0M1005 1055h0M1199 763h0M1530 520h0M882 1165h0M1266 454h0M873 1196h0M933 822h0M780 882h0M884 716h0M1029 1066h0M918 1089h0M1118 335h0M726 979h0M1019 893h0M1492 550h0M1039 1171h0M1082 420h0M1179 673h0M875 1080h0M861 844h0M777 870h0M991 833h0M920 1209h0M1062 965h0M1043 1159h0M1048 1147h0M907 1169h0M1045 964h0" stroke="#BF3A77"/><path d="M1042 1030h0M636 568h0M1111 906h0M853 1122h0M861 941h0M892 1141h0M981 1228h0M865 1076h0M1569 649h0M916 881h0M867 808h0M973 1081h0M1249 461h0M1180 287h0M842 933h0M1045 913h0M1129 312h0M716 941h0M980 995h0M897 752h0M1253 385h0M1005 884h0M902 887h0M1261 454h0M1099 1111h0M1111 830h0M859 1061h0M940 869h0M1230 394h0M1319 651h0M771 849h0M1179 373h0M1129 385h0M1147 466h0M807 790h0M855 892h0M1215 521h0M791 791h0M1124 756h0M1174 1013h0M860 899h0M1204 788h0M1185 1053h0M840 1060h0M1500 551h0M1157 740h0M855 795h0M1160 321h0M1192 1010h0M1107 369h0M1206 943h0M1143 1032h0M1598 699h0M1117 334h0M1503 550h0M929 839h0M1530 525h0M1223 368h0M1211 825h0M864 808h0M1182 784h0M1238 323h0M1071 1152h0M890 715h0M1158 966h0M1150 407h0M1664 832h0M1002 861h0" stroke="#AE347B"/><path d="M816 853h0M813 863h0M815 878h0M898 809h0M731 966h0M1556 509h0M1236 387h0M859 810h0M949 1102h0M971 823h0M1038 1018h0M907 1027h0M862 828h0" stroke="#D2436F"/><path d="M975 1083h0M885 1073h0M899 1063h0M1103 313h0M917 1065h0M1186 983h0M1601 704h0M1487 561h0M1076 907h0M1012 1056h0M1456 532h0M878 711h0M1260 417h0M780 847h0M895 804h0M924 1129h0M844 851h0M832 748h0M796 829h0M1048 991h0M1035 1130h0M1007 1103h0M1487 554h0M1040 1149h0M1050 969h0M718 1011h0M772 845h0M884 1117h0" stroke="#BF3A77"/><path d="M863 809h0M1002 986h0M822 1122h0M1611 733h0M1160 989h0M904 902h0M1087 415h0M897 1097h0M1040 1061h0M1451 517h0M1174 988h0M1017 971h0M1134 1070h0M1172 391h0M977 940h0M781 882h0M918 1089h0M1525 523h0M1192 438h0M837 1078h0M829 871h0M807 851h0M1166 741h0M1551 509h0M1696 828h0M987 764h0M822 864h0M1152 857h0M1462 534h0M886 711h0M651 568h0M1126 975h0M1152 1008h0M1095 1121h0M931 727h0M1194 1021h0M1129 381h0M1271 381h0M1116 342h0M860 865h0M1127 1041h0M1136 386h0M920 857h0M922 722h0M904 870h0M1200 307h0M876 1191h0M1178 428h0M829 817h0M770 1084h0M1276 351h0M985 1000h0M877 1106h0M1034 885h0M1156 762h0M947 1113h0M875 893h0M917 887h0M1131 316h0" stroke="#AE347B"/><path d="M1544 630h0" stroke="#FD9D6B"/><path d="M1573 640h0M1465 511h0M887 1203h0" stroke="#F7725C"/><path d="M906 987h0M1098 1012h0M1136 1052h0M978 767h0M1458 528h0M976 1147h0M1116 318h0M1157 357h0M1075 1102h0M925 1104h0M1262 343h0M1230 414h0M1083 1136h0M1106 1080h0M847 892h0M980 817h0M1073 782h0M848 864h0M1114 332h0M720 919h0M1196 762h0M1171 844h0M885 1003h0M1015 1094h0M627 514h0M1578 698h0M851 1056h0M866 799h0M1135 789h0M1112 993h0M1070 1010h0M1216 966h0M1003 911h0M1580 643h0M832 985h0M1253 354h0M1107 961h0M1032 1051h0M1004 910h0M1267 371h0M1017 910h0M807 821h0M1210 315h0M1105 820h0M1187 979h0M928 792h0M783 1096h0M946 1009h0M865 829h0M881 943h0M1234 477h0M928 1224h0M1487 623h0M1496 556h0M1234 388h0M1194 948h0M898 842h0M925 825h0M931 819h0M1103 967h0M1044 1124h0M916 1132h0M1133 998h0M1254 352h0M1174 962h0M1110 391h0M1193 389h0M1023 1131h0M1196 937h0M1233 365h0M1060 958h0M982 1092h0M840 741h0M1098 865h0M1042 1106h0M704 1036h0M1088 866h0M1219 390h0M1247 481h0M819 1076h0M1208 333h0M1231 714h0M1159 678h0M1134 732h0M1140 317h0M1046 1048h0M817 806h0M1160 1002h0M956 850h0M898 858h0M943 1103h0M1433 589h0M942 905h0M1146 1045h0M1046 914h0M999 933h0M1005 893h0M1110 332h0M862 1194h0M1041 1026h0M1201 377h0M889 967h0M1044 859h0M1156 1063h0M960 1224h0" stroke="#58157E"/><path d="M898 1033h0M1285 350h0M884 799h0M908 1199h0M1217 386h0M849 741h0M806 787h0M925 1054h0M1168 821h0M922 728h0M887 1083h0M867 729h0M973 1202h0M853 855h0M914 702h0M953 1139h0M971 1179h0M1225 481h0M1615 723h0M1617 727h0M931 1172h0M977 737h0M868 844h0M847 855h0M903 1162h0M863 830h0M857 748h0M1019 1174h0M1191 991h0" stroke="#8A2981"/><path d="M1156 842h0M877 1201h0M979 1162h0M1114 340h0M1042 980h0M1025 856h0M1008 998h0M1047 969h0M1054 981h0M1470 520h0M1008 958h0M1070 950h0M1171 431h0M1041 1025h0M1086 923h0M1003 1179h0M913 1209h0M993 995h0M974 739h0M887 1006h0M1036 965h0M1107 888h0M844 746h0M1022 1151h0M1001 1173h0M1046 866h0M956 1139h0M855 803h0M1034 1195h0M848 735h0M759 1074h0M1001 979h0M1469 517h0M1006 946h0M1157 958h0M958 727h0M1270 327h0M1050 1145h0M1256 468h0M968 809h0M799 823h0M1195 672h0M1011 979h0M1003 934h0M1159 1056h0M1006 990h0M1086 930h0M1012 947h0M948 802h0M1231 710h0M1003 1005h0M1074 946h0M1045 813h0M971 831h0M1241 365h0M723 1029h0M1275 356h0M806 870h0M1004 947h0M888 1222h0M887 1150h0M947 1013h0M1034 1113h0M1053 876h0M1042 915h0M934 807h0M1220 430h0M1043 958h0M1020 901h0M976 1180h0M840 824h0" stroke="#4C117A"/><path d="M1065 898h0M1048 976h0M810 843h0M1228 705h0M993 811h0M1129 741h0M1260 394h0M635 508h0M978 1218h0M875 1218h0M612 509h0M778 853h0M916 1053h0M950 1212h0M869 741h0M941 1137h0M1032 917h0M1112 330h0M1564 702h0M1026 1009h0M825 1124h0M921 1066h0M909 1105h0M1116 315h0M1034 929h0M1269 387h0M1261 362h0M1007 960h0M992 989h0M1259 380h0M1049 1147h0M1216 310h0M1127 322h0M1254 400h0M1215 797h0M1221 696h0M842 860h0M1215 959h0M1269 467h0M881 1205h0M1185 433h0M1229 363h0M1057 970h0M1180 990h0M1054 890h0M1167 980h0M990 1126h0M1133 315h0M1060 945h0M1258 333h0M1167 438h0M1017 997h0M1051 879h0M1046 954h0M1055 973h0" stroke="#6E1D81"/><path d="M770 856h0M920 807h0M809 845h0M948 843h0M867 809h0M1041 1003h0M984 756h0M1468 524h0M969 726h0M1044 1148h0M832 748h0" stroke="#F1605D"/><path d="M1054 867h0M1489 564h0M781 891h0M893 756h0M1734 800h0M1311 651h0M1548 517h0M1142 363h0M1158 1043h0M861 933h0M728 910h0M381 499h0M822 1013h0M1680 911h0M906 1110h0M816 1158h0M1211 802h0M1458 525h0M651 573h0M1676 847h0M856 935h0M1009 994h0M1041 986h0M1474 511h0M742 917h0M1730 804h0M1586 694h0M1106 332h0M1098 1076h0M1148 706h0M1564 644h0M1242 476h0M865 720h0M844 1049h0M846 1144h0M1669 897h0M1194 774h0M879 1152h0M689 1024h0M1732 802h0" stroke="#E95462"/><path d="M731 901h0M1725 808h0M1121 824h0M923 1183h0M851 1052h0M1236 484h0M980 1216h0M1220 744h0" stroke="#FB8761"/><path d="M786 920h0M1496 559h0M1268 346h0M687 1042h0M1051 983h0M818 811h0M912 1166h0M1462 526h0M1076 890h0M1166 1037h0M803 815h0M1031 891h0M809 801h0M1571 716h0" stroke="#DE4968"/><path d="M775 872h0M793 825h0M822 875h0M946 822h0M987 1227h0M1473 512h0M914 1035h0M793 804h0M938 1172h0M1255 342h0M1249 479h0M878 816h0M1015 1213h0M816 834h0M839 868h0M870 792h0M1054 894h0M895 1183h0M1042 990h0M844 746h0M917 1199h0M927 1209h0M1215 463h0M774 846h0M1148 830h0M967 1130h0M888 703h0M1227 403h0M844 797h0M1571 708h0M1137 459h0M1000 935h0M954 828h0M865 719h0" stroke="#9C2E7F"/><path d="M906 1017h0M973 784h0M1063 976h0M1175 672h0M994 1182h0M1235 343h0M875 798h0M1135 320h0M1029 1108h0M973 1150h0M995 1031h0M1226 707h0M971 815h0M1077 423h0M978 818h0M1248 337h0M1284 348h0M1236 362h0M1044 1061h0M1464 531h0M871 722h0M1579 649h0M925 1135h0M978 1141h0M1032 1040h0M959 1206h0M1080 869h0M1031 1182h0M1021 804h0M1267 398h0M1118 335h0M1193 678h0M1067 865h0M876 797h0M1035 951h0M791 923h0M625 509h0M947 809h0M872 725h0M1266 469h0M991 1073h0M1209 761h0M1189 671h0M1275 351h0M1041 979h0M1116 309h0M802 859h0M888 1116h0M993 1082h0M1003 1162h0M628 512h0M916 807h0M1020 865h0M1021 951h0M1004 941h0M1231 711h0M909 1076h0M1022 1120h0M631 512h0M938 1231h0M1047 988h0M926 1034h0" stroke="#63197F"/><path d="M1044 1017h0M1001 980h0M795 877h0M1000 1156h0M1172 1076h0M1259 376h0M1041 1189h0M679 978h0M1175 331h0M1560 686h0M1155 735h0M923 1000h0M1175 778h0M1136 825h0M747 1030h0M986 1121h0M1206 680h0M1221 502h0M1222 329h0M705 1061h0M921 721h0M693 1036h0M853 943h0M794 1106h0M720 995h0M1154 455h0M1267 339h0M1258 347h0M964 821h0M764 1051h0M1212 780h0M828 1134h0M709 916h0M916 943h0M384 502h0M723 900h0M691 1041h0M727 950h0M1031 896h0M745 1008h0M1190 1066h0M1026 1178h0M872 1019h0M775 869h0M753 1102h0M718 988h0M1145 447h0M794 1091h0M919 1055h0M678 1001h0M1157 737h0M1026 1198h0M724 1071h0M1048 1136h0M733 1071h0M1039 1137h0M1041 1185h0M794 983h0M1090 914h0M591 537h0M932 1087h0M855 952h0M956 1141h0M742 1092h0M724 917h0M788 932h0M780 1112h0M992 1180h0M870 1091h0M780 817h0M869 750h0M727 1002h0M814 873h0M1115 1012h0M1209 472h0M832 1115h0M974 1069h0M813 1101h0M852 748h0M836 1121h0M792 853h0M1467 549h0M737 962h0M809 1124h0M767 963h0M820 1090h0M1696 827h0M854 855h0M734 1094h0M844 1100h0M1234 352h0M1033 812h0M696 959h0M1666 908h0M1210 670h0M635 550h0M787 883h0M1193 464h0M1176 410h0M1115 1029h0M967 780h0M872 1136h0M1001 1164h0M687 993h0M872 817h0M1193 1047h0M944 1158h0M909 1130h0M1250 473h0M789 901h0M872 1102h0M969 834h0M1080 1086h0M901 795h0M1030 1140h0M1174 1058h0M887 1089h0M678 1033h0M939 966h0M1180 1056h0M1232 354h0M713 1041h0M874 1202h0M988 995h0M1239 439h0M896 1012h0M920 976h0M872 1155h0M1036 1173h0M1084 786h0M777 948h0M819 1162h0M879 1012h0M817 1144h0M867 834h0M790 859h0M1021 844h0M1175 1048h0M931 1117h0M1108 410h0M1221 942h0M873 1100h0M716 1045h0M967 1165h0M997 1081h0M1049 1094h0M968 1038h0M1164 304h0M1066 851h0M757 938h0M807 1109h0M942 1202h0M1084 1000h0M1022 920h0M909 1110h0M713 979h0M686 1023h0M1113 1009h0M793 911h0M872 814h0M1268 324h0M1573 657h0M1010 1220h0M992 1096h0M871 1110h0M717 1108h0M979 1225h0M1262 363h0M867 1216h0M1081 809h0M775 851h0M907 1078h0M683 1005h0M686 1058h0M1148 942h0M897 1049h0M771 1023h0M713 940h0M1198 1044h0M1028 897h0M828 841h0M1133 378h0M883 808h0M810 912h0M1043 1119h0M1044 935h0M753 1087h0M823 853h0M1041 1131h0M985 1141h0M802 1144h0M730 1093h0M872 730h0M937 876h0M790 871h0M698 931h0M952 1214h0M1148 962h0M1144 748h0M1121 867h0M1252 388h0M1529 514h0M726 1050h0M1145 847h0M902 1163h0M1037 1187h0M896 801h0M980 1222h0M691 1086h0M788 861h0M738 1025h0M1553 508h0M873 1053h0M926 995h0M794 936h0M696 955h0M731 887h0M1099 885h0M1167 1053h0M1471 516h0M1006 945h0M922 720h0M933 1198h0M741 944h0M697 1039h0M1043 1117h0M936 730h0M706 1033h0M803 808h0M934 812h0M1137 1050h0M703 1009h0M816 1054h0M1040 933h0M836 836h0M911 1132h0M1035 958h0M834 849h0M707 1007h0M871 1098h0M892 1039h0M1046 1020h0M1110 1095h0M1201 362h0M744 966h0M708 1004h0M596 526h0M718 900h0M831 802h0M917 1066h0M894 1163h0M755 1054h0M620 575h0M805 870h0M1157 460h0M1033 1001h0M892 799h0M1215 328h0M1179 1060h0M1035 1111h0M784 1039h0M725 909h0M895 723h0M1212 547h0M962 1071h0M839 964h0M995 1000h0M983 1226h0M1210 433h0M722 957h0M717 1065h0M906 1087h0M829 995h0M685 1053h0M792 821h0M868 1162h0M892 1009h0M881 995h0M1178 402h0M681 1081h0M942 1216h0M690 942h0M915 968h0M1077 1096h0M720 983h0M1137 1096h0M882 795h0M804 1137h0M805 1104h0M813 826h0M950 724h0M1019 1081h0M1029 1198h0M795 846h0M1148 469h0M949 918h0M1262 469h0M774 903h0M987 1154h0M1034 949h0M870 1079h0M1254 456h0M776 876h0M1170 748h0M1005 1019h0M1020 919h0M778 969h0M905 1176h0M1247 344h0M812 873h0M1045 806h0M864 826h0M1212 526h0M1199 489h0M800 1096h0M696 1013h0M963 911h0M1113 968h0M683 1013h0M590 530h0M877 1197h0M1142 994h0M1036 1186h0M698 961h0M1243 487h0M992 1217h0M1149 1021h0M954 1029h0M841 955h0M916 1048h0M1002 923h0M696 1105h0M865 838h0M1006 999h0M956 1135h0M695 1012h0M1119 859h0M685 1055h0" stroke="#000004"/><path d="M855 801h0M896 1148h0M1024 855h0M1583 690h0M1493 568h0M1118 337h0M1494 562h0M823 845h0M774 844h0M889 721h0M721 990h0M1151 999h0M833 831h0M1564 711h0M1048 1100h0M909 1125h0M921 1192h0M734 904h0M923 731h0M897 798h0M930 1167h0" stroke="#9C2E7F"/><path d="M1180 1062h0M881 723h0M844 796h0M1585 657h0M898 701h0M864 718h0M882 703h0M962 817h0M731 1008h0M804 860h0M1121 329h0M929 1184h0M874 792h0M910 822h0M974 1104h0M846 827h0M712 999h0M877 1057h0" stroke="#F1605D"/><path d="M1603 734h0M1216 691h0M1032 1141h0M1109 320h0M789 793h0M1106 826h0M1004 991h0M1208 766h0M961 833h0M1474 520h0M834 773h0M292 982h0M993 1223h0M1722 810h0M1490 520h0M1477 514h0M1049 1156h0M1045 994h0M1673 878h0" stroke="#E95462"/><path d="M1187 1017h0M923 803h0M1119 308h0M908 1060h0M1489 566h0M1265 401h0M1174 674h0M1051 868h0M1177 438h0M1158 681h0M1026 1199h0M1152 685h0M1032 978h0M973 1190h0M934 1190h0M1042 896h0M993 982h0M1007 1069h0M1191 438h0M895 1228h0M1214 803h0M1245 352h0M901 703h0M805 856h0M1016 984h0M1102 791h0M1051 938h0M1037 948h0M1038 926h0M1259 339h0M1048 925h0M933 1140h0M989 1171h0M1242 476h0M777 851h0M1255 392h0M971 1168h0M1179 998h0M1024 1067h0M1267 465h0M1033 866h0M1119 311h0M893 1081h0M1080 863h0M1157 469h0M1058 971h0M1041 1068h0M780 858h0M1000 1088h0M895 705h0M1618 727h0M1273 377h0M1008 960h0M907 1071h0M1169 676h0M1171 433h0M1192 677h0" stroke="#4C117A"/><path d="M1021 908h0M1233 374h0M961 1213h0M928 1200h0M1225 697h0M945 833h0M1154 681h0M1046 953h0M835 863h0M1225 713h0M1196 672h0M1188 451h0M820 856h0M1020 918h0M989 795h0M1166 676h0M824 852h0M1167 442h0M1267 330h0M1057 861h0M1010 1037h0M1257 352h0M1072 867h0M1043 1093h0M1237 340h0M806 876h0M917 1097h0M936 792h0M865 796h0M1111 314h0M929 1012h0M970 1128h0M1045 987h0M799 799h0M999 1104h0M1042 952h0M1048 993h0M1083 814h0M1168 439h0M966 807h0M1212 409h0M1096 317h0M997 1149h0M1027 800h0M865 812h0M994 823h0M1075 945h0M1197 1012h0M878 1137h0M1464 586h0M1159 452h0" stroke="#63197F"/><path d="M934 1129h0M1198 837h0M892 875h0M866 1184h0M1593 680h0M888 1174h0M893 849h0M822 1115h0M884 749h0M1574 645h0M968 993h0M614 517h0M1176 399h0M1038 1113h0M920 834h0M861 731h0M1242 389h0M1199 412h0M1088 412h0M1153 809h0M805 791h0M929 1146h0M879 1056h0M1188 935h0M862 941h0M1546 632h0M1182 330h0M897 1192h0M880 888h0M844 784h0M1081 872h0M851 809h0M831 798h0M995 1195h0M1156 1036h0M881 897h0M1680 844h0M1212 989h0M1563 639h0M874 858h0M644 560h0M901 1112h0M1138 1005h0M1169 994h0M1600 699h0M1024 866h0M953 870h0M774 1065h0M963 995h0M1097 1104h0M888 1213h0M987 781h0M781 1101h0M1573 698h0M1037 1156h0M1095 833h0M1514 541h0M895 907h0M934 903h0M958 1188h0M1160 1057h0M885 795h0M1538 513h0M827 751h0" stroke="#AE347B"/><path d="M1087 830h0M825 1124h0M896 1231h0M773 887h0M856 952h0M1056 841h0M1077 812h0M934 1173h0M1082 1060h0M883 892h0M846 1172h0M689 1006h0M1175 317h0M951 1153h0M1255 345h0M780 955h0M957 1135h0M632 519h0M934 1191h0M864 840h0M728 1021h0M1222 478h0M1093 910h0M762 963h0M713 1077h0M806 808h0M887 1144h0M1025 886h0M694 1100h0M799 940h0M798 1095h0M781 909h0M830 1109h0M886 747h0M1088 955h0M781 998h0M913 1080h0M1085 786h0M488 228h0M1025 920h0M1214 539h0M1189 852h0M1065 964h0M682 960h0M907 1074h0M771 854h0M1085 1031h0M777 1015h0M979 759h0M776 894h0M1170 425h0M761 917h0M1143 451h0M927 1206h0M1156 748h0M680 1069h0M889 1202h0M1039 1099h0M1237 419h0M1159 428h0M1518 520h0M1147 439h0M930 1121h0M969 918h0M999 1160h0M879 1062h0M1140 1062h0M821 875h0M905 1118h0M1595 666h0M1195 313h0M927 1122h0M1017 962h0M1112 1107h0M1213 347h0M1024 894h0M797 910h0M823 826h0M618 559h0M1100 1117h0M976 1051h0M812 1119h0M1000 1083h0M868 1059h0M978 931h0M1146 1009h0M1067 930h0M810 862h0M1008 1002h0M1179 976h0M1048 868h0M1259 372h0M931 800h0M1107 791h0M999 1223h0M776 971h0M886 990h0M894 1175h0M832 839h0M812 1130h0M1022 986h0M683 1043h0M1190 432h0M926 1115h0M602 529h0M1106 846h0M730 1103h0M1129 307h0M864 796h0M1096 1032h0M796 880h0M1180 358h0M824 1160h0M915 1098h0M942 1192h0M723 1030h0M730 1108h0M726 1021h0M878 737h0M1172 287h0M822 1130h0M1487 525h0M994 1179h0M799 963h0M882 1142h0M1495 524h0M734 924h0M1231 353h0M884 921h0M1123 737h0M1016 936h0M802 1156h0M1186 780h0M683 1018h0M802 1083h0M1017 1214h0M1023 1024h0M742 888h0M742 890h0M692 1078h0M800 970h0M599 522h0M681 998h0M1226 453h0M798 928h0M940 859h0M1182 796h0M1152 795h0M1005 1159h0M877 1118h0M723 1069h0M1185 463h0M986 789h0M1231 707h0M885 1178h0M1206 467h0M1196 1051h0M878 1137h0M1196 791h0M896 1204h0M835 970h0M881 1009h0M736 1110h0M785 818h0M1067 1014h0M804 802h0M705 1032h0M974 1193h0M839 873h0M1265 470h0M786 839h0M1062 877h0M1011 898h0M873 1088h0M763 1065h0M681 1003h0M895 1130h0M862 1070h0M882 792h0M823 834h0M945 1022h0M816 1137h0M1226 474h0M954 1172h0M1028 853h0M676 1043h0M913 1053h0M1137 1080h0M1113 1070h0M1042 970h0M884 962h0M859 756h0M842 1037h0M1022 935h0M1514 522h0M678 1015h0M881 1094h0M775 1000h0M888 1073h0M604 532h0M705 939h0M745 899h0M712 1019h0M888 1144h0M682 1093h0M1039 1159h0M901 1054h0M842 818h0M683 1079h0M804 841h0M1077 893h0M695 1084h0M938 951h0M919 1048h0M894 1120h0M692 945h0M702 1014h0M1048 1065h0M973 1180h0M886 1075h0M1151 1092h0M1267 467h0M1218 973h0M691 1048h0M813 1153h0M1041 988h0M754 1068h0M1124 1109h0M700 1083h0M812 1148h0M939 1058h0M954 945h0M686 1053h0M944 1180h0M914 869h0M1138 972h0M1110 399h0M883 1129h0M1058 944h0M933 1231h0M969 790h0M761 1030h0M1095 1039h0M727 973h0M1185 1056h0M1039 1128h0M1118 1111h0M878 1126h0M801 820h0M1051 866h0M882 806h0M1107 332h0M752 1099h0M1229 365h0M1022 1088h0M853 860h0M1026 942h0M699 1041h0M684 1034h0M1178 351h0M1138 1023h0M847 1115h0M1014 1119h0M1217 376h0M1019 1120h0M966 787h0M924 1153h0M873 1177h0M783 915h0M969 1174h0M1017 929h0M809 1137h0M1187 419h0M1031 906h0M866 746h0M834 860h0M1115 824h0M968 938h0M1588 672h0M1112 804h0M824 824h0M1566 679h0M993 1055h0M772 863h0M974 801h0M1039 1194h0M703 948h0M656 571h0M1271 342h0M735 1008h0M1129 467h0M826 847h0M731 1027h0M1020 1207h0M917 824h0M928 1129h0M891 991h0M967 1146h0M991 945h0M907 1105h0M1205 827h0M676 990h0M1171 437h0M991 1101h0M885 1084h0M923 1042h0M1516 518h0M932 1175h0M839 831h0M711 998h0M748 901h0M724 941h0M987 1219h0M922 1191h0M940 1188h0M788 940h0M711 1000h0M697 1022h0M826 1148h0M922 1175h0M1081 1144h0M1050 999h0M765 1073h0M694 1029h0M694 1030h0M785 926h0M1087 822h0M1560 695h0M1033 858h0M827 859h0M998 1144h0M1049 994h0M1177 343h0M684 956h0M1486 549h0M777 875h0M903 1180h0M789 859h0M1144 747h0M867 1051h0M961 758h0M924 1040h0M952 1114h0M1150 413h0M957 821h0M1216 375h0M797 988h0M932 826h0M828 841h0M1208 474h0M1118 774h0M884 1117h0M693 976h0M714 1077h0M1452 526h0M803 870h0M976 1227h0M800 829h0M728 1071h0M974 834h0M790 912h0M928 1019h0" stroke="#000004"/><path d="M1204 756h0M815 870h0M823 877h0M862 826h0M1472 519h0M1217 802h0M925 1081h0M792 851h0M927 1222h0M1215 414h0M1078 913h0" stroke="#DE4968"/><path d="M871 1215h0M730 1051h0M1017 955h0M1115 898h0M837 867h0" stroke="#FD9D6B"/><path d="M904 709h0M838 753h0M1147 460h0M827 868h0M777 932h0M854 730h0M1577 716h0" stroke="#D2436F"/><path d="M1598 682h0M866 883h0M882 732h0" stroke="#FB8761"/><path d="M856 841h0M810 796h0M875 795h0M1232 398h0M1553 634h0M899 1140h0M859 813h0M1246 473h0M845 848h0M916 1198h0M909 1149h0M778 850h0M871 803h0M1458 515h0M1258 362h0M935 794h0M880 795h0M1080 872h0M1165 679h0M828 847h0M1040 965h0M773 839h0M1054 962h0M1563 640h0M777 853h0M844 792h0M957 1128h0M815 844h0M990 1113h0" stroke="#8A2981"/><path d="M918 1233h0M1050 966h0M963 931h0M1461 521h0M1175 340h0M1195 671h0M1155 1049h0M938 755h0M910 1071h0M926 837h0M1118 316h0M1084 787h0M614 508h0M1007 1088h0M1041 982h0M1528 517h0M1166 1009h0M1110 834h0M1033 960h0M849 1035h0M888 902h0M1168 969h0M1217 390h0M1023 851h0M1160 1072h0M797 800h0M987 1003h0M1055 881h0M906 1110h0M1137 1020h0M1130 990h0M1459 521h0M1148 711h0M1223 749h0M1660 818h0M993 950h0M1110 1060h0M1212 360h0M1042 892h0M1187 833h0M1197 406h0M1588 679h0M932 1124h0M1060 977h0M986 768h0M1252 377h0M954 812h0M1209 540h0M1228 341h0M841 1166h0M699 1099h0M1028 1033h0M1044 1150h0M1301 657h0M1257 339h0M992 808h0M1051 965h0M1127 758h0M705 942h0M916 701h0M621 548h0M882 1028h0M917 821h0M1153 685h0M1107 1119h0M1027 962h0M885 1007h0M1001 819h0M1231 365h0M1246 340h0M1211 383h0M1046 1164h0M1134 808h0M794 827h0M1056 834h0M1035 1176h0M1026 856h0M1069 878h0M929 857h0M1692 832h0M1223 810h0M841 759h0M931 832h0M891 966h0M1042 955h0M1007 1127h0M1226 703h0M1166 322h0M1498 562h0M1141 762h0M936 832h0M931 1221h0M1130 1033h0M1677 894h0M1178 997h0M1055 857h0M978 1135h0M1239 485h0M1060 945h0M1090 836h0M981 1052h0M818 988h0M866 1143h0M1003 998h0M1234 339h0M1032 990h0M1195 428h0M1160 393h0M1220 319h0M1453 525h0M1153 702h0M876 1210h0M1116 838h0M996 979h0M1283 354h0M1159 1030h0M924 964h0M1160 685h0M957 1147h0M1212 512h0M806 1102h0M893 890h0M1144 364h0M1163 681h0" stroke="#58157E"/><path d="M938 803h0M1109 858h0M1258 351h0M614 507h0M1011 947h0M1041 991h0M1025 1202h0M1115 324h0M1096 316h0M1105 888h0M1231 334h0M1063 871h0M1242 352h0M1167 432h0M960 1115h0M954 825h0M1033 1048h0M929 1009h0M1058 922h0M1275 338h0M837 844h0M915 823h0M1229 473h0M1007 962h0M1229 341h0M996 983h0M931 1132h0M944 808h0M1212 520h0M1595 699h0M1138 987h0M1481 516h0M802 819h0M1256 386h0M1107 319h0M1157 685h0M969 806h0M891 829h0M888 1015h0M886 1168h0M955 730h0M1037 857h0M1258 359h0M1037 878h0M1232 472h0M1041 1008h0M967 1180h0M902 814h0M1004 957h0M916 830h0M1114 330h0M1153 707h0M925 795h0M1030 1091h0M1044 895h0M910 712h0M918 827h0M1250 373h0M1028 1116h0M1481 516h0M898 1070h0M1046 1051h0M877 1160h0M1271 406h0M1064 931h0M901 1147h0M909 1010h0" stroke="#6E1D81"/><path d="M889 802h0M858 837h0M1511 519h0M1013 838h0M1182 1059h0M881 1096h0M1089 894h0M728 912h0M979 747h0M1026 875h0M1041 988h0M1590 719h0M1180 675h0M1209 446h0M1165 271h0M808 884h0M964 817h0M1164 851h0M1022 1141h0M858 805h0M686 994h0M1470 591h0M1126 978h0M908 1050h0M1026 933h0M1218 697h0M886 834h0M1171 453h0M934 1074h0M1584 648h0M931 1173h0M956 1214h0M760 946h0" stroke="#BF3A77"/><path d="M720 908h0M769 975h0M1075 926h0M907 824h0M807 972h0M722 912h0M1253 360h0M993 988h0M1548 632h0M1248 335h0M886 1003h0M1530 515h0M862 751h0" stroke="#F1605D"/><path d="M1505 584h0M1152 826h0M1181 676h0M1048 926h0M911 989h0M1057 931h0M1137 439h0M1023 871h0M936 929h0M610 525h0M855 909h0M1072 785h0M1566 638h0M1032 1176h0M1191 1040h0M879 985h0M1230 311h0M1106 1027h0M1023 956h0M1023 845h0M924 815h0M642 570h0M1200 813h0M956 948h0M1048 975h0M1145 1018h0M1156 830h0M934 801h0M1167 1071h0M889 711h0M1474 560h0M1175 764h0M874 808h0M1589 666h0M932 1159h0M945 1014h0M777 865h0M986 1103h0M608 527h0M580 539h0M855 1030h0M990 805h0M1014 930h0M953 806h0M1145 702h0M1043 927h0M1163 827h0M1051 951h0M1040 916h0M1005 939h0M1196 360h0M1199 708h0M1043 1136h0M584 538h0M1079 866h0M1130 368h0M969 796h0M1207 550h0M896 1109h0M897 1088h0M1154 462h0M1152 961h0M797 822h0M1211 320h0M1036 970h0M1127 858h0M877 1139h0M1179 436h0M1589 657h0M941 837h0M1100 902h0M990 1109h0M1102 412h0M1210 534h0M1011 1156h0M1183 431h0M1460 508h0M1037 958h0M1203 404h0M881 1091h0M961 983h0M1050 967h0M1263 342h0M889 1207h0M1570 703h0M1023 992h0M970 988h0M1139 440h0M921 1028h0M1570 676h0M1174 444h0M1031 885h0M1082 800h0M985 1152h0M812 1158h0M1048 883h0M915 820h0M1164 386h0M1179 396h0M1242 972h0M1222 803h0M864 876h0M1127 842h0M922 991h0M873 1004h0M1126 982h0M1043 819h0M901 983h0M954 1050h0M1134 1034h0M1499 530h0M1088 824h0M988 797h0M1117 317h0M873 789h0M857 786h0M1238 460h0M1231 719h0M1030 923h0" stroke="#58157E"/><path d="M1039 874h0M919 1224h0M906 1175h0M910 821h0M1204 781h0M1043 1093h0M888 1161h0M909 1207h0M856 748h0M1069 867h0M1277 360h0M1077 423h0M1154 686h0M1560 697h0M1217 313h0M985 769h0M1156 831h0M875 790h0M965 1173h0M1488 570h0M868 809h0M1020 1077h0M1032 989h0M1041 1037h0M791 798h0M981 764h0M1167 1047h0M1219 789h0M962 788h0M843 822h0M1035 891h0M1261 380h0" stroke="#BF3A77"/><path d="M915 1058h0M1578 692h0M722 1083h0M1597 699h0M1547 639h0M804 868h0M1271 365h0M1017 1090h0M1036 966h0M1566 640h0M1049 977h0" stroke="#D2436F"/><path d="M923 1105h0M1124 867h0M1159 379h0M708 925h0M1591 727h0M793 878h0M689 948h0M1481 557h0M816 812h0M1161 333h0M980 1215h0M1077 421h0M688 955h0M1592 727h0M995 988h0M1169 1048h0M1007 1216h0M855 804h0M1506 547h0M1111 771h0M623 527h0M1236 483h0" stroke="#E95462"/><path d="M846 747h0M1140 465h0M898 1211h0" stroke="#F7725C"/><path d="M1031 935h0M864 818h0M1054 986h0M687 993h0M1214 436h0M481 220h0M877 830h0M984 1090h0M1113 745h0M992 812h0M1242 387h0M729 1063h0M887 1154h0M863 1014h0M1044 1005h0M1226 987h0M922 717h0M896 1060h0M825 1032h0M814 1064h0M1190 954h0M943 974h0M997 1167h0M1199 391h0M920 930h0M1079 1045h0M875 1004h0M909 1133h0M1220 326h0M712 1096h0M830 1025h0M1151 405h0M982 834h0M1048 1067h0M799 1042h0M1184 770h0M682 1075h0M712 912h0M781 976h0M970 943h0M1169 732h0M800 914h0M800 1108h0M1004 930h0M801 859h0M1114 1114h0M935 921h0M1229 499h0M787 857h0M792 1084h0M783 912h0M1024 952h0M967 878h0M897 952h0M682 1042h0M1189 841h0M718 932h0M736 911h0M1187 1040h0M877 1220h0M1092 778h0M704 924h0M920 813h0M1207 780h0M960 944h0M1004 1113h0M1033 893h0M1153 343h0M692 992h0M879 1071h0M741 908h0M825 835h0M1100 960h0M963 729h0M1192 373h0M1181 423h0M1101 1069h0M742 964h0M918 1227h0M997 1184h0M1172 650h0M971 1077h0M1225 812h0M1263 372h0M885 1019h0M783 855h0M965 1175h0M793 951h0M689 1053h0M1125 363h0M1230 463h0M902 1231h0M832 745h0M926 1109h0M995 1095h0M991 922h0M882 1100h0M761 1025h0M723 999h0M774 1016h0M1109 894h0M895 957h0M923 1232h0M1103 911h0M916 1193h0M956 817h0M1046 1186h0M808 1052h0M1083 906h0M1502 519h0M803 987h0M815 872h0M1174 665h0M830 1049h0M699 1100h0M1040 1152h0M783 976h0M1113 1064h0M925 930h0M943 903h0M1023 1035h0M858 1018h0M1213 771h0M926 1154h0M703 1023h0M692 1027h0M1020 992h0M805 785h0M1154 746h0M967 1024h0M967 807h0M1046 871h0M920 802h0M1686 840h0M997 966h0M884 1026h0M611 551h0M1105 786h0M898 822h0M1153 1092h0M889 1148h0M1203 316h0M1487 575h0M747 1116h0M1220 393h0M1020 1140h0M1146 707h0M1150 458h0M991 1132h0M1036 1060h0M978 822h0M1079 792h0M1102 774h0M1010 831h0M886 832h0M961 1180h0M946 1200h0M839 964h0M1227 468h0M983 1195h0M911 1065h0M823 1143h0M722 925h0M786 1133h0M696 1032h0M1046 858h0M1227 357h0M879 806h0M725 922h0M713 1107h0M1001 934h0M802 877h0M917 727h0M846 816h0M919 797h0M1148 699h0M1218 750h0M881 792h0M984 1194h0M753 1069h0M883 1095h0M1520 528h0M683 1006h0M817 1120h0M776 995h0M1090 795h0M1050 930h0M718 1098h0M1086 414h0M712 1028h0M675 996h0M968 873h0M1137 469h0M618 520h0M1172 994h0M1148 854h0M860 750h0M1039 891h0M958 1185h0M1005 951h0M986 1193h0M1475 574h0M936 1088h0M1007 1184h0M1231 312h0M1185 333h0M903 967h0M989 1123h0M1231 501h0M1284 355h0M781 871h0M925 958h0M1169 396h0M1106 979h0M702 1016h0M1160 362h0M1153 468h0M994 1129h0M863 807h0M890 1202h0M905 1144h0M957 827h0M973 1032h0M1029 874h0M780 911h0M1007 1186h0M1006 1173h0M690 1084h0M881 716h0M813 806h0M779 954h0M675 1031h0M1085 1069h0M757 1039h0M810 1066h0M1102 838h0M980 1014h0M1106 774h0M998 1199h0M892 1019h0M1084 1093h0M1106 1114h0M977 1019h0M1267 385h0M1175 823h0M719 907h0M968 1159h0M1487 546h0M833 804h0M1192 376h0M716 1094h0M1079 772h0M835 941h0M791 942h0M1236 354h0M788 1030h0M829 1172h0M877 1082h0M1041 1179h0M1609 729h0M731 1004h0M1206 801h0M964 1226h0M750 884h0M1189 437h0M1011 1181h0M1254 477h0M873 1115h0M1112 861h0M726 1078h0M992 1205h0M1118 965h0M920 1180h0M784 935h0M1118 809h0M915 1191h0M801 933h0M1023 1099h0M1172 1022h0M832 833h0M903 1143h0M895 1231h0M771 934h0M1041 1139h0M796 790h0M864 829h0M1145 467h0M977 1215h0M789 804h0M1030 937h0M883 1065h0M827 1051h0M713 916h0M1191 1054h0M949 1155h0M790 1008h0M728 1021h0M703 1038h0M1134 1046h0M977 956h0M1165 767h0M695 1064h0M1162 972h0M677 976h0M690 1028h0M999 872h0M1227 475h0M680 1017h0M1105 1114h0M1160 748h0M764 961h0M691 1020h0M1160 803h0M775 870h0M1057 823h0M766 884h0M714 921h0M1171 464h0M858 810h0M1561 678h0M720 1101h0M1191 789h0M874 962h0M759 901h0M1160 995h0M1024 1061h0M1147 779h0M784 1049h0M687 962h0M813 1139h0M973 1232h0M1100 1132h0M710 925h0M1086 992h0M683 1038h0M693 993h0M1042 1105h0M684 1008h0M1091 1096h0" stroke="#000004"/><path d="M1608 710h0M778 1095h0M848 919h0M1211 759h0M987 1216h0M1671 847h0M994 940h0M1587 679h0M798 936h0M1468 534h0M1558 508h0M1148 702h0" stroke="#FB8761"/><path d="M1162 327h0M1093 774h0M1144 824h0M858 802h0M981 1176h0M1541 521h0M942 1211h0M1223 488h0M295 985h0M996 955h0M1603 699h0M1107 991h0M788 953h0M1221 692h0M853 1146h0M1216 690h0M913 1125h0M979 986h0M978 821h0M1057 890h0M838 836h0M1462 509h0M818 1042h0M862 1083h0M1191 787h0M853 733h0M619 572h0M1099 836h0M635 515h0M1494 572h0M926 723h0M883 806h0M794 881h0M973 759h0M1024 942h0M1118 378h0M1176 846h0M1173 1043h0M908 711h0M1562 504h0M1143 1052h0M1136 1011h0M812 818h0M999 818h0M1006 1124h0M917 1149h0M1121 846h0M1188 1021h0M1681 841h0M1487 517h0M1099 327h0M1000 950h0M612 545h0M1149 952h0M994 1156h0M950 768h0M1220 815h0M944 778h0M1172 1000h0M1228 484h0M874 1160h0M1164 979h0M831 833h0M1123 903h0M893 717h0M860 1139h0M1480 542h0M914 706h0M1258 365h0M1043 1153h0M1003 1114h0M831 860h0M811 876h0M1016 954h0M1182 843h0M1226 722h0M792 799h0M1619 722h0M1205 385h0M1132 361h0M1017 973h0" stroke="#AE347B"/><path d="M899 1146h0M985 1076h0M1231 492h0M971 1193h0M1492 558h0M998 1135h0M967 820h0M861 742h0M877 1092h0M889 1164h0M1135 319h0M989 1125h0M907 701h0M772 830h0M1022 919h0M970 1157h0M910 1083h0M1169 281h0M840 864h0M1017 924h0M878 814h0M813 804h0M936 801h0M918 733h0M844 863h0M1211 314h0" stroke="#8A2981"/><path d="M913 824h0M958 799h0M1258 391h0M1043 936h0M1169 479h0M927 732h0M1050 923h0M993 956h0M1255 467h0M789 816h0M1216 690h0M1043 974h0M1258 396h0M1067 975h0M1051 1035h0M1209 547h0M1018 955h0M927 1082h0M912 1138h0M1212 405h0M1007 954h0M1041 919h0M1271 356h0M900 1062h0M1134 840h0M1221 694h0M1041 1146h0M1260 334h0M824 796h0M1039 894h0M849 745h0M1027 909h0M817 851h0M953 800h0M930 812h0M1148 999h0M1053 939h0M620 517h0M948 820h0M1256 357h0M972 746h0" stroke="#63197F"/><path d="M917 1145h0M1044 996h0M1039 880h0M1123 329h0M890 1187h0M1135 846h0M1034 883h0M1243 345h0M784 829h0M1074 870h0M887 1095h0M1028 879h0M1105 829h0M1213 693h0M1151 685h0M1268 404h0M1030 909h0M915 1121h0M978 1224h0M1084 863h0M1011 945h0M1119 315h0M944 790h0M831 843h0M955 816h0M983 823h0M1230 728h0M914 1070h0M979 1215h0M1022 1123h0M915 1092h0M1072 956h0M1233 376h0M987 792h0M1021 862h0M968 1178h0M775 853h0M1007 985h0M1135 997h0M1019 987h0M1023 1125h0M1226 704h0M1086 926h0M1124 857h0M890 1084h0M1564 697h0M1024 941h0M1046 975h0M1192 1043h0M979 1134h0M957 737h0M901 1180h0M1180 674h0M964 1228h0M1044 943h0M917 1089h0M1011 1163h0M1034 1068h0M1203 437h0M794 873h0M1237 350h0M782 885h0M908 1186h0M996 793h0M1020 880h0" stroke="#4C117A"/><path d="M1040 1063h0M720 1026h0M794 886h0M842 746h0M1039 1077h0M828 817h0M1578 644h0M740 938h0M749 1066h0M913 801h0M686 1003h0M1010 1131h0M994 793h0M711 1041h0" stroke="#DE4968"/><path d="M1241 479h0M944 1135h0M1213 693h0M1018 985h0M1022 1203h0M1031 987h0M879 714h0M884 1105h0M1058 861h0M944 800h0M1456 535h0M1018 943h0M986 1035h0M1281 352h0M1285 359h0M1253 444h0M1255 334h0M779 865h0M772 834h0M1274 343h0M1119 837h0M1226 378h0M979 805h0M1017 953h0M1251 342h0M1189 431h0M755 976h0M1186 987h0M1610 733h0M1465 536h0M813 807h0M1153 683h0M1130 321h0M613 512h0M1563 701h0M1021 902h0M1034 1107h0M887 796h0M1125 312h0M1245 351h0M1274 393h0M1249 377h0M1231 478h0M1206 322h0M1053 980h0M1076 883h0M1211 471h0M1130 309h0M729 895h0M882 1137h0M1226 706h0M1581 653h0M1020 977h0M1233 453h0M1226 319h0M1163 676h0M613 515h0M914 1060h0M970 1111h0M869 731h0M1198 940h0M1026 944h0M869 799h0M994 1006h0" stroke="#6E1D81"/><path d="M1218 697h0" stroke="#FCF0B0"/><path d="M866 734h0M997 1203h0M1467 521h0M1083 422h0M833 850h0M942 810h0M913 1047h0M908 1189h0M1540 514h0M906 1147h0M923 1198h0M848 800h0M1173 822h0M957 833h0M896 1208h0M1039 1171h0M915 1083h0M789 879h0M1015 1152h0M920 810h0M926 832h0M951 823h0M1018 981h0M1022 1207h0M778 820h0M716 1107h0M900 1079h0M951 802h0" stroke="#9C2E7F"/><path d="M1146 810h0M1592 665h0M1136 449h0M631 562h0M843 863h0M1057 1156h0M1211 949h0M1090 1112h0M1246 478h0M1219 529h0M612 514h0M935 822h0M1036 1147h0M952 801h0M1047 930h0M646 575h0M887 1070h0M937 830h0M913 888h0M1164 1045h0M1160 760h0M862 1005h0M954 1141h0M1026 977h0M1260 345h0M1170 385h0M1309 651h0M1182 993h0M891 852h0M867 785h0M912 881h0M949 1190h0M1001 952h0M958 783h0M608 540h0M900 909h0M1144 741h0M1049 883h0M1146 1065h0M1053 838h0M1045 812h0M991 957h0M1200 319h0M930 967h0M1241 379h0M1080 1011h0M925 809h0M958 800h0M866 1150h0M999 958h0M1031 961h0M1072 945h0M1122 1029h0M988 1099h0M1121 315h0M1462 553h0M1469 553h0M1234 481h0M1202 954h0M1110 861h0M1181 962h0M1102 373h0M1151 464h0M1098 772h0M1189 1032h0M940 974h0M1085 860h0M637 524h0M1467 584h0M1227 415h0M911 936h0M1206 326h0M1155 1030h0M1174 812h0M876 745h0M1213 382h0M1208 306h0M951 796h0M1606 714h0M900 961h0M1239 325h0M1033 962h0M1233 974h0M1543 514h0M1445 585h0M868 1169h0M577 541h0M888 1028h0M1216 398h0M1202 774h0M1229 718h0M1224 703h0M1213 689h0M1096 1129h0M946 815h0M1019 908h0M1121 980h0M830 1091h0M955 979h0M1543 629h0M987 919h0M970 1028h0M1017 891h0M1194 1027h0M1165 394h0M1164 857h0M1169 342h0M1145 1035h0M922 889h0M853 812h0M1103 768h0M1099 819h0M890 1001h0M1214 525h0M1123 326h0M1229 348h0M1117 790h0M1140 327h0M1071 967h0M847 802h0M878 1174h0M1227 704h0" stroke="#58157E"/><path d="M1173 1053h0M847 1148h0M1133 817h0M1456 517h0" stroke="#FB8761"/><path d="M1186 444h0M997 1170h0M1012 943h0M916 805h0M1120 857h0M1227 395h0M1188 1001h0M1045 955h0M1053 922h0M1047 988h0M1246 470h0M1119 311h0M990 1043h0M1031 947h0M854 739h0M1042 957h0M1012 1096h0M975 1138h0M845 806h0M1260 354h0M1199 673h0M1042 879h0M1216 417h0M1085 869h0M1266 458h0M887 1024h0M1088 415h0M1014 936h0M966 1116h0M1009 831h0M996 802h0M1595 732h0M969 821h0M795 809h0M972 1211h0M1236 378h0M1027 1091h0M941 804h0M1018 1015h0M968 817h0M1163 1039h0M1028 1095h0M956 1175h0M1021 963h0M1464 587h0M969 1055h0M1272 344h0M903 1092h0M931 821h0M1237 366h0M930 831h0M1005 821h0M632 512h0M1150 949h0M1027 889h0M1039 1183h0M1259 333h0M1032 858h0M896 1146h0M998 821h0M1124 313h0M1012 1030h0M1106 860h0M982 1023h0M1035 1116h0" stroke="#63197F"/><path d="M924 814h0M854 1074h0M898 1118h0M486 225h0M1011 1000h0M1195 798h0M945 728h0M1199 370h0M1180 802h0M1122 991h0M861 916h0M767 903h0M1054 848h0M1026 888h0M983 811h0M1119 975h0M1456 509h0M1190 1012h0M943 1021h0M1675 904h0M770 1064h0M1293 663h0M880 909h0M1220 772h0M1168 846h0M1081 788h0M1552 512h0" stroke="#E95462"/><path d="M1142 836h0M675 1004h0M865 715h0M1175 438h0M841 1058h0M1077 848h0M785 824h0M1209 317h0M1024 1178h0M949 898h0M1097 414h0M1674 873h0M843 771h0M959 867h0M1151 819h0M847 926h0M946 736h0M1125 900h0M482 222h0M847 807h0M1483 548h0M843 848h0M653 563h0M639 510h0M1224 792h0M1092 858h0M882 1068h0M1170 439h0M376 494h0M884 1084h0M1176 981h0M975 944h0M788 1110h0M889 829h0M852 870h0M1145 1008h0M825 1006h0M1189 738h0M1231 361h0M1188 755h0M1117 777h0M1057 826h0M848 827h0M840 1152h0M959 1062h0M987 787h0M901 1135h0M1121 312h0M1576 715h0M1053 967h0M877 1067h0M1043 913h0M904 953h0M1104 857h0M846 810h0M1229 703h0M796 783h0M962 844h0M1266 452h0M812 874h0M852 793h0M982 808h0M1113 369h0M1000 962h0M819 1107h0M988 834h0M852 767h0M859 858h0M1041 1135h0M1261 349h0M819 1152h0M765 1030h0M839 747h0" stroke="#AE347B"/><path d="M679 1026h0" stroke="#FD9D6B"/><path d="M1478 545h0M1012 1096h0M888 1178h0M1147 459h0M1026 957h0M1233 478h0M1074 938h0M1038 1097h0M1043 817h0M1483 512h0M925 1116h0M633 511h0M995 810h0M1015 1157h0M898 1193h0M1074 922h0M908 1230h0M1229 727h0M1015 1024h0M1214 687h0M953 793h0M1045 1068h0M984 1147h0M941 1129h0M1012 1178h0M1268 327h0M1007 1220h0M1217 387h0M843 805h0M980 1198h0M933 1219h0M967 1166h0M1219 512h0M900 1216h0M923 801h0M1235 461h0M868 800h0M1190 934h0M636 508h0M999 999h0M1007 968h0M933 813h0M1070 887h0M1005 975h0M899 1063h0M880 1057h0M892 1078h0M1276 360h0M1127 306h0M1257 325h0M926 812h0M857 732h0M1034 858h0M1029 969h0" stroke="#4C117A"/><path d="M1040 925h0M949 728h0M1153 688h0M1021 1143h0M912 803h0M621 504h0M843 754h0M1240 327h0M1045 1097h0M1223 694h0M915 1156h0M1043 817h0M851 799h0M1611 726h0M1245 480h0M1016 879h0M991 1132h0M1232 472h0M1047 1062h0M1184 433h0M1265 367h0M1182 673h0M1104 321h0M973 1227h0M921 1113h0M1050 916h0M1062 945h0M1212 506h0M1254 388h0M1112 326h0M1075 912h0M1070 970h0M1001 951h0M1212 758h0M1239 482h0M789 843h0M1046 1011h0M1237 465h0M1460 512h0M1097 860h0M916 1232h0" stroke="#6E1D81"/><path d="M923 1174h0M812 864h0M715 1062h0M1042 1059h0M778 978h0M1120 825h0M967 1195h0M802 952h0M871 739h0M888 1220h0M984 1183h0M1479 542h0M814 801h0" stroke="#F1605D"/><path d="M928 1223h0M888 813h0M1033 1130h0M943 1158h0M1460 520h0M1021 963h0M1032 1065h0M875 1134h0M968 1056h0M1117 901h0M1071 870h0M778 848h0M1156 836h0M955 1192h0M899 1219h0M895 806h0M1100 860h0M980 1188h0M1177 827h0M871 740h0M867 802h0M778 909h0M802 788h0M1460 510h0M997 951h0M800 801h0M902 1018h0" stroke="#BF3A77"/><path d="M785 1041h0M1154 375h0M794 957h0M941 1087h0M837 814h0M1098 796h0M1115 891h0M953 810h0M733 1004h0M874 1191h0M1077 953h0M852 1083h0M699 962h0M1184 391h0M899 1173h0M1211 955h0M1127 1095h0M604 542h0M1092 830h0M787 933h0M1091 1138h0M761 898h0M1232 391h0M916 1203h0M685 1049h0M1092 1029h0M992 817h0M1170 838h0M921 1213h0M819 1123h0M782 1052h0M723 916h0M972 1200h0M765 878h0M787 805h0M984 1149h0M816 1032h0M981 1228h0M908 1121h0M963 1172h0M1204 754h0M936 811h0M830 811h0M657 564h0M1001 1122h0M751 891h0M1475 571h0M1014 1147h0M723 1062h0M1043 1144h0M955 974h0M885 804h0M824 862h0M971 1043h0M1098 1036h0M699 1101h0M683 1049h0M874 962h0M1140 462h0M776 902h0M1149 1029h0M1123 792h0M861 803h0M872 1202h0M1681 909h0M1029 892h0M921 727h0M970 1169h0M1036 951h0M1253 384h0M782 1053h0M874 1114h0M1149 461h0M814 829h0M1024 870h0M730 1007h0M1180 1011h0M1067 878h0M985 825h0M1240 488h0M1140 434h0M706 1014h0M1067 852h0M976 1219h0M1215 534h0M916 1116h0M872 837h0M1149 1090h0M890 826h0M905 1174h0M701 1059h0M916 1126h0M1468 540h0M708 1016h0M1247 362h0M1104 1125h0M960 1164h0M728 903h0M680 1054h0M900 1201h0M932 1231h0M748 1095h0M718 907h0M1092 913h0M1144 398h0M1258 376h0M695 1095h0M687 989h0M1243 459h0M1037 968h0M710 931h0M979 1130h0M1192 962h0M743 942h0M1272 370h0M883 1190h0M1035 1191h0M840 863h0M924 1088h0M1030 1153h0M894 1227h0M925 1168h0M726 1089h0M733 1038h0M902 1118h0M1117 770h0M894 802h0M824 839h0M873 830h0M853 945h0M1011 1180h0M1106 1118h0M919 895h0M892 812h0M1107 1093h0M729 892h0M856 808h0M975 1163h0M870 800h0M1242 395h0M994 992h0M708 1071h0M1138 1058h0M926 727h0M1212 505h0M940 1172h0M806 807h0M1029 1191h0M1489 522h0M660 567h0M1049 1112h0M890 1129h0M791 859h0M912 1171h0M914 1060h0M932 1180h0M1231 487h0M706 942h0M654 559h0M1265 350h0M762 1044h0M782 1120h0M1195 401h0M738 902h0M895 1055h0M926 1029h0M836 1155h0M712 947h0M1164 969h0M787 931h0M853 1062h0M714 1049h0M724 1015h0M842 1119h0M806 1089h0M864 995h0M1003 933h0M1055 842h0M1151 1038h0M942 1214h0M867 797h0M798 920h0M985 828h0M855 1175h0M871 894h0M1150 321h0M1584 687h0M911 1110h0M1121 801h0M956 1164h0M692 1073h0M963 1162h0M1223 524h0M753 1049h0M1122 976h0M796 845h0M691 997h0M1452 567h0M1041 1124h0M1030 864h0M878 1199h0M1680 838h0M882 1101h0M1201 349h0M717 1097h0M1009 1218h0M1100 997h0M918 820h0M862 1209h0M1028 1149h0M1179 434h0M1037 1182h0M771 958h0M733 998h0M1197 421h0M1246 352h0M943 784h0M847 872h0M701 1015h0M932 1179h0M775 849h0M889 1102h0M798 832h0M855 1096h0M784 998h0M1260 453h0M970 1181h0M1151 1085h0M697 1092h0M811 849h0M943 1233h0M742 1112h0M872 1165h0M981 1176h0M914 1142h0M1156 1039h0M852 807h0M936 732h0M752 932h0M797 912h0M786 930h0M1607 733h0M905 816h0M1041 1092h0M1153 735h0M1010 930h0M798 970h0M995 1209h0M820 1133h0M985 1198h0M1134 1004h0M1039 856h0M1018 1101h0M738 974h0M1184 749h0M994 1110h0M1151 987h0M1192 758h0M996 1148h0M1035 800h0M1105 963h0M609 535h0M1171 403h0M925 1229h0M1076 421h0M818 836h0M1147 435h0M1183 956h0M1269 382h0M728 1004h0M916 825h0M985 1160h0M1183 777h0M751 1070h0M757 907h0M976 1062h0M889 1061h0M1116 858h0M851 858h0M1113 986h0M798 843h0M741 1099h0M887 1059h0M1045 1047h0M779 950h0M1459 571h0M853 807h0M968 1122h0M1122 766h0M761 1048h0M917 956h0M1559 646h0M960 915h0M870 769h0M1118 973h0M811 883h0M925 1191h0M1021 958h0M911 1130h0M1207 382h0M806 969h0M854 1180h0M802 1132h0M1027 993h0M782 983h0M1116 975h0M1012 1092h0M1117 853h0M914 1179h0M879 1083h0M823 1112h0M679 978h0M721 922h0M922 716h0M896 1119h0M938 1153h0M766 1114h0M1189 1061h0M964 1054h0M1100 896h0M1101 412h0M1137 356h0M1025 1207h0M1031 885h0M842 956h0M1488 547h0M1207 747h0M1197 1039h0M736 928h0M1135 815h0M691 960h0M1018 865h0M796 862h0M918 1069h0M1173 825h0M946 826h0M883 1200h0M721 1013h0M874 1116h0M989 1172h0M993 881h0M713 919h0M962 974h0M1122 875h0M851 1028h0M788 882h0M826 1137h0M1242 467h0M860 1158h0M1048 1003h0M1032 1129h0" stroke="#000004"/><path d="M850 830h0M1559 697h0M796 847h0M889 1079h0M1603 704h0M1035 971h0M870 1089h0M1168 966h0M1243 384h0M878 719h0M918 812h0M1114 768h0M966 801h0M1098 913h0M945 1222h0M822 1158h0M1097 886h0M870 723h0M896 800h0M930 1197h0M1000 1134h0M929 831h0M996 1114h0M1176 288h0M896 724h0M1570 697h0M915 718h0M1028 1010h0M1472 586h0M1047 872h0M1146 1018h0M868 741h0" stroke="#8A2981"/><path d="M1182 699h0" stroke="#FCF0B0"/><path d="M969 1134h0M1588 676h0M744 1090h0M849 791h0M1169 280h0M981 1114h0M1009 1089h0M1013 1097h0M849 830h0M1589 690h0M1048 1060h0" stroke="#D2436F"/><path d="M1557 702h0M706 1106h0M734 1050h0" stroke="#F7725C"/><path d="M674 1050h0M1029 901h0M841 754h0M1051 874h0M1180 976h0M763 1038h0M1009 1176h0M870 841h0M994 975h0M975 803h0M755 918h0M828 826h0M1239 326h0M993 1005h0" stroke="#DE4968"/><path d="M912 1094h0M702 925h0M979 1113h0M1469 525h0M1092 772h0M1220 438h0M1548 639h0M860 813h0M1046 1167h0M1591 722h0M842 754h0M895 1085h0M1479 546h0M1033 1183h0M894 1198h0M836 748h0M785 1022h0M825 860h0M1048 1048h0M916 847h0M1081 420h0M896 723h0M830 828h0M810 790h0M740 1038h0M804 793h0M1029 879h0M1585 719h0M708 1062h0M1237 469h0M621 519h0M1605 731h0" stroke="#9C2E7F"/><path d="M912 1209h0M767 970h0M1555 512h0M808 839h0" stroke="#FD9D6B"/><path d="M948 735h0M1098 830h0M1456 519h0M785 876h0M683 1039h0M1488 568h0M1233 401h0M706 1010h0M799 860h0M817 807h0M1111 310h0" stroke="#F1605D"/><path d="M983 1137h0M1048 989h0M1040 967h0M1131 319h0M995 1060h0M701 1089h0M796 878h0M927 802h0M977 748h0M1257 466h0M1172 670h0M955 1110h0M1042 906h0M1092 861h0M1037 983h0M882 794h0M1238 347h0M1042 1092h0M1145 452h0M909 1093h0M939 833h0M951 787h0M828 870h0M1042 820h0M1248 467h0M1005 967h0M952 794h0M974 1172h0M1049 984h0M1260 470h0M1195 673h0M1258 345h0M872 1134h0M1123 311h0M847 796h0M958 802h0M805 861h0M1152 817h0M1031 1086h0M1044 976h0M781 823h0M953 1001h0M1052 869h0M1040 946h0M795 853h0M1024 996h0M1091 867h0" stroke="#63197F"/><path d="M1012 1108h0M954 1058h0M890 1159h0M974 1084h0M998 937h0M873 736h0M788 800h0M781 844h0M967 1222h0M779 916h0M921 822h0M1026 1093h0M893 1193h0M836 809h0M1591 716h0M834 825h0M1004 981h0M1216 813h0M846 819h0" stroke="#9C2E7F"/><path d="M1155 986h0M1144 330h0M996 852h0M1482 549h0M908 980h0M1042 990h0M1029 920h0M849 1179h0M992 951h0M1148 743h0M1184 319h0M1172 323h0M1130 854h0M1197 982h0M874 1176h0M885 1095h0M842 1003h0M1163 954h0M953 1052h0M826 1103h0M846 926h0M876 878h0M908 894h0M905 707h0M797 782h0M1176 726h0M932 866h0M1050 838h0M1049 839h0M1669 831h0M853 882h0M882 1128h0M932 946h0M868 904h0M1151 850h0M810 1136h0M964 853h0M999 1000h0M895 864h0M1174 429h0M1213 512h0M798 824h0M812 1096h0M1133 1017h0M1143 968h0M834 914h0M1153 379h0M1116 780h0M1205 761h0M1159 1026h0M930 743h0M1145 1069h0M1150 831h0M919 735h0M1149 373h0M605 520h0M622 517h0M843 933h0M1168 755h0M949 1144h0M1186 825h0M843 751h0M825 1151h0M1132 828h0M1212 952h0M959 873h0M958 757h0M987 1172h0" stroke="#AE347B"/><path d="M1057 973h0M1028 1132h0M808 792h0M901 713h0M868 731h0M1077 901h0M1466 527h0M922 1182h0M1207 308h0M1545 637h0M794 793h0M992 1203h0M874 803h0M1043 1008h0M1004 816h0M976 726h0M1199 1015h0M1584 653h0M1014 978h0M938 1056h0M1043 947h0M1490 523h0M1079 419h0M901 1123h0M1254 462h0M1227 708h0M966 738h0M1458 522h0M1469 507h0M619 507h0M909 701h0M1592 724h0M1046 829h0M886 722h0M1115 843h0M987 834h0M1557 641h0M1591 720h0M837 824h0M790 866h0M953 1232h0" stroke="#8A2981"/><path d="M1572 643h0M932 724h0M1036 954h0M1035 902h0M1014 1097h0M1024 867h0M1244 361h0M990 794h0M1203 454h0M1241 323h0M1069 956h0M1223 396h0M1184 671h0M1038 1092h0M1054 826h0M941 731h0M925 797h0M786 885h0M1222 388h0M918 821h0M862 747h0M1256 390h0M1232 716h0M1012 945h0M1173 286h0M1009 1003h0M886 1179h0M929 1103h0M1034 1078h0M995 1080h0M1015 1185h0M952 1190h0M948 823h0M996 979h0M926 1042h0M1252 466h0M1209 431h0M927 1212h0M1260 400h0M970 834h0M1160 961h0M968 739h0M935 1012h0M1064 937h0M846 752h0M1233 350h0M912 819h0M1044 1035h0M798 861h0M1228 350h0M1141 833h0M1169 674h0M1231 346h0M1110 865h0M1004 815h0M982 1034h0M890 718h0" stroke="#4C117A"/><path d="M702 1089h0M1136 372h0M1197 321h0M897 1089h0M997 1084h0M1188 848h0M1010 1076h0M1108 407h0M1187 1016h0M1167 402h0M1230 731h0M883 1220h0M927 1042h0M1023 974h0M890 1149h0M949 1035h0M757 974h0M1207 329h0M708 1103h0M859 818h0M860 1098h0M692 966h0M801 870h0M1059 871h0M1041 950h0M835 838h0M896 814h0M709 924h0M1149 1081h0M1198 342h0M1077 786h0M980 1024h0M819 877h0M1199 746h0M835 1078h0M741 987h0M782 874h0M1211 753h0M950 1197h0M1027 986h0M907 1001h0M942 722h0M898 1141h0M1100 411h0M717 955h0M883 1181h0M1032 1184h0M793 857h0M1169 1075h0M729 894h0M690 947h0M796 970h0M1025 1111h0M836 1169h0M1049 1108h0M1187 1015h0M1268 363h0M1154 800h0M696 940h0M717 1043h0M1241 353h0M914 1084h0M983 1195h0M725 895h0M1042 1062h0M1552 644h0M900 921h0M1008 1129h0M1199 1034h0M1040 1178h0M807 1144h0M1124 1011h0M1146 449h0M940 1180h0M746 1101h0M1037 918h0M1151 448h0M774 973h0M737 1060h0M706 997h0M1028 1196h0M706 1078h0M705 1010h0M750 1002h0M1110 813h0M799 902h0M1160 1081h0M783 889h0M880 1166h0M698 945h0M750 920h0M760 967h0M1166 1060h0M762 927h0M771 1030h0M1480 545h0M945 1226h0M838 835h0M763 1067h0M835 1142h0M622 568h0M748 965h0M890 924h0M1144 1095h0M924 830h0M1226 469h0M1164 1065h0M745 1106h0M787 873h0M1079 1120h0M842 929h0M951 929h0M889 879h0M1102 800h0M743 1066h0M1031 877h0M995 1205h0M721 939h0M976 808h0M1255 472h0M702 956h0M1083 1129h0M1022 1077h0M998 1223h0M984 1085h0M1231 484h0M719 937h0M1196 435h0M823 858h0M700 1013h0M691 967h0M1190 1031h0M958 1179h0M647 558h0M933 1127h0M831 758h0M848 804h0M678 1034h0M857 796h0M724 1007h0M765 924h0M888 813h0M807 1116h0M1038 913h0M1189 413h0M1174 270h0M1232 348h0M760 926h0M722 1020h0M1181 845h0M1217 319h0M867 948h0M999 937h0M1124 1090h0M844 1023h0M1040 1168h0M975 1002h0M993 977h0M986 934h0M961 1231h0M1028 1019h0M1154 1086h0M858 752h0M827 1136h0M803 787h0M1004 951h0M739 1087h0M878 912h0M722 1110h0M792 862h0M724 1111h0M835 941h0M876 1187h0M709 939h0M888 822h0M1219 313h0M1539 514h0M801 974h0M759 1096h0M766 911h0M949 1194h0M954 1225h0M771 941h0M1181 1029h0M902 1132h0M767 1052h0M895 807h0M1117 330h0M951 1220h0M747 919h0M749 1090h0M790 799h0M744 1000h0M997 1141h0M992 1144h0M966 1135h0M884 845h0M723 911h0M881 1026h0M992 811h0M969 1164h0M968 796h0M1204 1028h0M1111 910h0M1041 952h0M974 1227h0M934 825h0M710 972h0M1170 797h0M1053 975h0M932 1066h0M881 1071h0M947 1231h0M814 841h0M1162 752h0M1174 1064h0M921 1112h0M1032 1027h0M1670 909h0M707 1046h0M785 978h0M1004 1153h0M884 1194h0M691 1008h0M939 723h0M718 901h0M874 818h0M851 758h0M752 1036h0M858 848h0M787 895h0M948 1083h0M896 803h0M612 506h0M925 1223h0M1124 845h0M1209 369h0M693 1000h0M977 1163h0M1468 507h0M834 745h0M853 1194h0M1211 519h0M773 998h0M904 800h0M859 913h0M1013 1177h0M1028 875h0M1031 1110h0M758 1086h0M1284 356h0M811 787h0M1042 1059h0M826 873h0M1142 390h0M897 1110h0M1054 874h0M943 732h0M1020 1207h0M1475 567h0M1247 391h0M840 976h0M684 986h0M957 961h0M782 885h0M801 885h0M1140 845h0M747 1062h0M1672 836h0M905 1219h0M826 1100h0M736 1024h0M1008 996h0M1020 1107h0M687 1023h0M732 916h0M683 1017h0M934 890h0M837 1181h0M701 1011h0M947 1011h0M900 1108h0M992 1219h0M798 875h0M1049 826h0M1140 448h0M957 1007h0M1210 413h0M723 1053h0M905 1110h0M1169 1069h0M930 841h0M720 1037h0M974 1228h0M879 1201h0M1083 1064h0M1192 327h0M836 798h0M703 1102h0M975 748h0M878 1187h0M1485 520h0M1006 1113h0M719 906h0M865 1000h0M631 566h0M1183 377h0M1039 857h0M999 1007h0M757 987h0M1243 482h0M920 1227h0M1147 447h0M1027 862h0M1047 921h0M581 542h0M772 998h0M1208 808h0M823 995h0M1042 1082h0M903 1075h0M708 1051h0M754 925h0M997 1183h0M954 1217h0M807 1127h0M1034 1193h0M880 1011h0M700 944h0M1117 862h0M734 1054h0M1145 388h0M989 982h0M1218 567h0M1198 463h0M746 966h0M685 1070h0M908 1232h0M929 1210h0M1580 673h0M711 1101h0M1018 1188h0M728 951h0M816 1022h0M721 940h0M884 1222h0M817 851h0M1160 765h0M940 820h0M1132 1107h0M999 996h0M724 904h0M894 1142h0M1106 982h0M1176 1065h0M818 879h0M964 1084h0M832 827h0M1185 921h0M727 993h0M802 903h0M983 1132h0" stroke="#000004"/><path d="M1054 841h0M1063 882h0M968 734h0M879 1154h0M1035 883h0M945 1107h0M1263 454h0M1070 936h0M951 1001h0M893 1101h0M1003 990h0M1011 833h0M1050 935h0M901 1111h0M1005 822h0M1115 322h0M1189 1054h0M1035 882h0M1003 959h0M890 1226h0M909 1165h0M1039 1110h0M1019 899h0M1232 328h0M1177 449h0M960 1227h0M961 791h0M1228 723h0M1094 904h0M1022 995h0M1024 863h0M1119 814h0M1153 697h0M858 803h0M1042 854h0M914 1164h0M1153 467h0M1227 723h0M1263 470h0M1227 706h0M1212 660h0M900 1191h0M994 1177h0M985 1062h0M822 811h0M1010 996h0M1034 915h0M1230 470h0M950 803h0M921 716h0M1111 322h0M1046 980h0M1239 459h0M1002 1126h0M974 1099h0M1577 690h0M1039 913h0" stroke="#6E1D81"/><path d="M1465 516h0M1040 1108h0M1084 1132h0M904 838h0M968 894h0M1218 484h0M1142 384h0M1578 713h0M756 906h0M861 836h0M1212 764h0M1154 1060h0M1216 772h0M911 863h0M929 821h0M1671 902h0M1172 820h0M1224 368h0M1087 1128h0M1143 979h0M1117 858h0M1182 764h0M1167 355h0" stroke="#E95462"/><path d="M1199 1042h0M939 1172h0" stroke="#F7725C"/><path d="M1176 288h0M679 1005h0M1194 1035h0M925 1093h0M1042 1019h0" stroke="#D2436F"/><path d="M866 726h0M1194 933h0M957 738h0M1594 672h0M1544 632h0M1238 468h0M885 1197h0M853 793h0M970 728h0M1001 1057h0M777 836h0M678 1009h0" stroke="#DE4968"/><path d="M1454 520h0M1462 529h0M873 1074h0M1116 747h0" stroke="#FB8761"/><path d="M1177 832h0M912 720h0M1020 953h0M1016 1145h0M928 803h0M790 813h0M921 822h0M630 514h0M934 803h0M820 872h0M885 1149h0M763 983h0M1044 966h0M1001 1133h0M1080 420h0M901 1072h0M864 824h0M798 868h0M1574 694h0M881 1080h0M1074 926h0M906 1158h0M1036 1001h0M1000 1181h0M830 805h0" stroke="#BF3A77"/><path d="M938 827h0M891 1061h0M1156 978h0M995 928h0M616 505h0M1193 435h0M1467 510h0M784 881h0M1046 820h0M877 1069h0M1110 974h0M882 1111h0M982 793h0M1190 438h0M1181 334h0M1094 411h0M1218 504h0M918 1131h0M885 832h0M1230 710h0M1585 649h0M788 1122h0M1664 827h0M1170 269h0M845 891h0M1096 875h0M1213 311h0M1198 353h0M1262 346h0M621 513h0M1688 842h0M1040 970h0M950 762h0M899 746h0M1217 958h0M1190 764h0M1028 960h0M835 1059h0M1162 1009h0M1139 738h0M916 821h0M1069 942h0M940 1061h0M836 1061h0M1101 324h0M1011 828h0M1466 590h0M1005 1165h0M1162 1021h0M1192 765h0M1171 353h0M1027 863h0M1233 460h0M1051 814h0M1041 995h0M1176 816h0M870 861h0M1146 766h0M593 542h0M971 910h0M1200 396h0M1091 1015h0M1233 335h0M1065 870h0M1680 905h0M993 1000h0M1154 457h0M634 512h0M1166 433h0M921 810h0M919 797h0M1052 951h0M1170 443h0M1227 705h0M996 986h0M1171 755h0M956 789h0M1193 833h0M1480 536h0M1472 545h0M859 872h0M1047 1164h0M920 825h0M944 874h0M967 826h0M871 1112h0M1093 412h0M1123 369h0M1158 852h0M1210 328h0M953 796h0M1127 375h0M1207 499h0M871 1071h0M1256 321h0M1189 772h0M1207 329h0M932 995h0M1492 554h0M1205 369h0M1185 1008h0M1008 1089h0M889 1002h0M985 812h0M1157 951h0M1108 865h0M1148 1053h0M1148 740h0M1150 709h0M1247 396h0M1313 649h0M1272 348h0M615 506h0M1072 794h0M947 1006h0M920 986h0M1162 349h0M1116 854h0M967 819h0M1026 976h0M1001 1141h0M1005 996h0M1554 650h0M997 815h0M1204 963h0M1138 335h0M1042 823h0M1144 732h0M1152 1070h0M1094 417h0M855 909h0M895 963h0M934 1167h0M1172 1054h0" stroke="#58157E"/></g>
<path d="M205.5 142.6V1302.5H1829" fill="none" stroke="#000" stroke-width="4.6" stroke-linecap="butt" stroke-linejoin="miter"/>
<path d="M191 244.8H205.5M191 484.1H205.5M191 723.4H205.5M191 962.7H205.5M191 1202.0H205.5M231.3 1302.5V1317M706.9 1302.5V1317M1182.5 1302.5V1317M1658.1 1302.5V1317" stroke="#000" stroke-width="4.6"/>
<text x="176" y="263.1" font-size="51" text-anchor="end">15</text>
<text x="176" y="502.4" font-size="51" text-anchor="end">10</text>
<text x="176" y="741.7" font-size="51" text-anchor="end">5</text>
<text x="176" y="981.0" font-size="51" text-anchor="end">0</text>
<text x="176" y="1220.3" font-size="51" text-anchor="end">-5</text>
<text x="231.3" y="1366.5" font-size="51" text-anchor="middle">-10</text>
<text x="706.9" y="1366.5" font-size="51" text-anchor="middle">0</text>
<text x="1182.5" y="1366.5" font-size="51" text-anchor="middle">10</text>
<text x="1658.1" y="1366.5" font-size="51" text-anchor="middle">20</text>
<text transform="translate(1012.4 1435) scale(0.898 1)" font-size="62" text-anchor="middle">UMAP_1</text>
<text transform="translate(95 722.5) rotate(-90) scale(0.937 1)" font-size="62" text-anchor="middle">UMAP_2</text>
<text transform="translate(1011.1 100.9) scale(0.893 1)" font-size="70.9" font-weight="bold" text-anchor="middle">SZRD1</text>
<rect x="1885.2" y="578.5" width="63.6" height="318.5" fill="url(#mg)"/>
<path d="M1885.2 897.0h12.7M1936.1 897.0h12.7M1885.2 835.0h12.7M1936.1 835.0h12.7M1885.2 773.0h12.7M1936.1 773.0h12.7M1885.2 711.0h12.7M1936.1 711.0h12.7M1885.2 649.0h12.7M1936.1 649.0h12.7M1885.2 587.0h12.7M1936.1 587.0h12.7" stroke="#fff" stroke-width="1.8"/>
<text x="1978" y="915.0" font-size="51">0.0</text>
<text x="1978" y="853.0" font-size="51">0.5</text>
<text x="1978" y="791.0" font-size="51">1.0</text>
<text x="1978" y="729.0" font-size="51">1.5</text>
<text x="1978" y="667.0" font-size="51">2.0</text>
<text x="1978" y="605.0" font-size="51">2.5</text>
</svg></body></html>
